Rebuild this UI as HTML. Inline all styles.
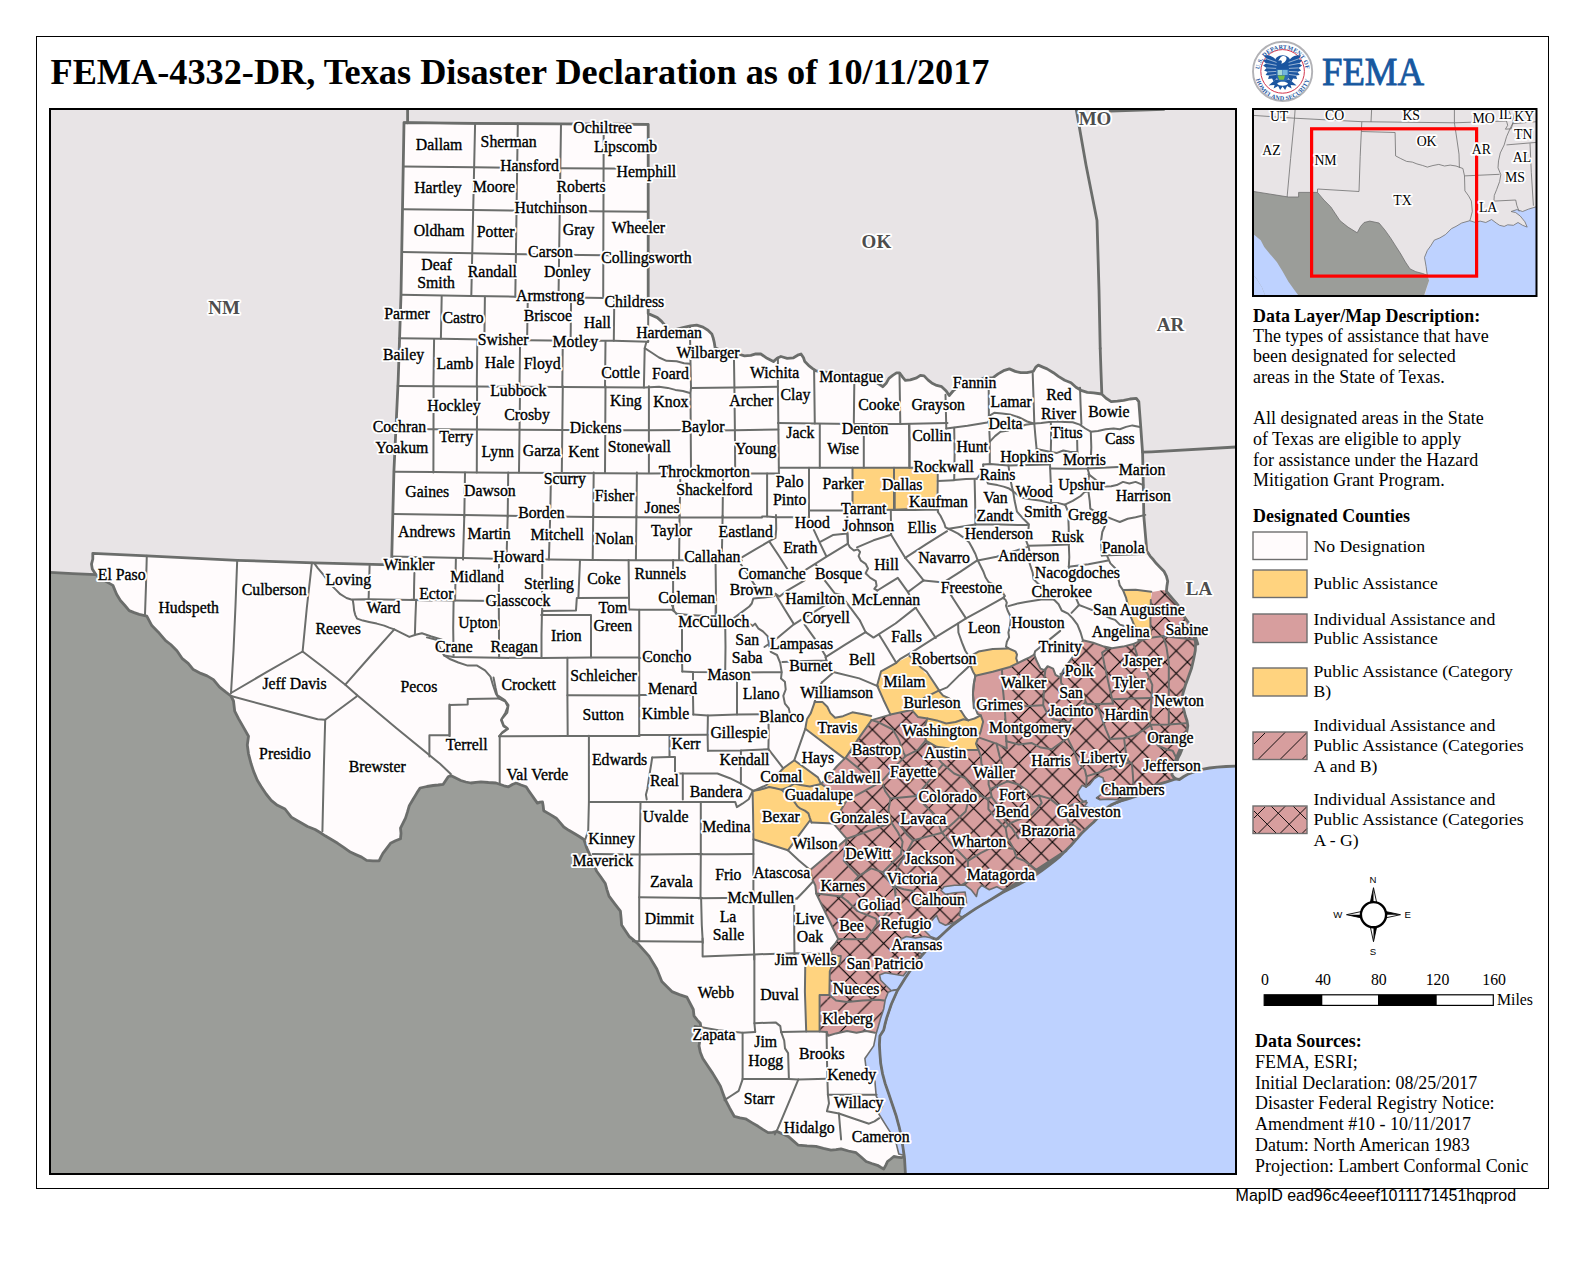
<!DOCTYPE html>
<html><head><meta charset="utf-8"><title>FEMA-4332-DR</title>
<style>
html,body{margin:0;padding:0;background:#fff}
body{width:1592px;height:1262px;position:relative;overflow:hidden;font-family:"Liberation Serif",serif}
svg{position:absolute;left:0;top:0}
text{font-family:"Liberation Serif",serif;fill:#000}
.sans{font-family:"Liberation Sans",sans-serif}
.b{font-weight:bold}
.p{font-size:17.95px}
.lg{font-size:17.7px}
.cl{font-size:15.8px;text-anchor:middle}
.hl{stroke:#fff;stroke-width:4.2px;stroke-linejoin:round;fill:#fff}
.fl{stroke:#000;stroke-width:0.35px}
.sl{font-size:19px;font-weight:bold;fill:#4d4d4d;paint-order:stroke;stroke:#fff;stroke-width:3.6px;stroke-linejoin:round;text-anchor:middle}
.il{font-size:13.8px;paint-order:stroke;stroke:#fff;stroke-width:3.4px;stroke-linejoin:round;text-anchor:middle}
.co{fill:none;stroke:#6b6d6b;stroke-width:2;stroke-linejoin:round;stroke-linecap:round}
.st{fill:none;stroke:#6b6d6b;stroke-width:2.8;stroke-linejoin:round;stroke-linecap:round}
</style></head><body>
<svg width="1592" height="1262" viewBox="0 0 1592 1262">
<defs>
<pattern id="h1" patternUnits="userSpaceOnUse" width="22.5" height="22.5" patternTransform="translate(17.4,9.6)">
<path d="M-2,24.5 L24.5,-2" stroke="#000" stroke-width="1.1" fill="none"/>
</pattern>
<pattern id="h2" patternUnits="userSpaceOnUse" width="22.5" height="22.5" patternTransform="translate(17.4,9.6)">
<path d="M-2,24.5 L24.5,-2 M-2,-2 L24.5,24.5" stroke="#000" stroke-width="1.1" fill="none"/>
</pattern>
<clipPath id="mapclip"><rect x="50" y="109" width="1186" height="1065"/></clipPath>
<clipPath id="insclip"><rect x="1253" y="109" width="283" height="187"/></clipPath>
</defs>

<rect x="36.5" y="36.5" width="1512" height="1152" fill="#fff" stroke="#000" stroke-width="1"/>
<text x="50.5" y="84" class="b" style="font-size:36.2px" textLength="939" lengthAdjust="spacingAndGlyphs">FEMA-4332-DR, Texas Disaster Declaration as of 10/11/2017</text>
<g clip-path="url(#mapclip)">
<rect x="50" y="109" width="1186" height="1065" fill="#e8e4e6"/>
<path d="M35.0 571.9 L50.1 572.4 L72.7 573.6 L95.8 574.6 L104.1 580.4 L112.9 585.4 L116.6 594.2 L120.4 600.5 L124.9 605.5 L129.2 610.6 L134.2 612.6 L139.2 614.3 L146.8 616.1 L151.8 625.6 L158.1 631.9 L165.6 640.7 L170.7 644.5 L176.9 650.8 L182.0 658.3 L188.2 663.3 L193.3 669.6 L200.8 673.4 L207.1 675.9 L213.4 679.6 L219.6 687.2 L225.9 692.2 L231.0 696.0 L233.5 701.0 L234.7 711.1 L238.5 718.6 L243.5 727.4 L248.5 736.2 L247.3 745.0 L248.5 753.8 L251.1 763.8 L253.6 771.4 L257.3 780.2 L261.1 786.4 L266.1 794.0 L271.2 800.3 L277.4 805.3 L285.0 809.0 L291.3 817.1 L307.5 826.5 L315.1 829.5 L320.1 832.5 L325.1 835.8 L331.4 839.5 L337.7 843.3 L344.0 847.6 L350.3 852.1 L355.8 854.6 L361.6 857.1 L366.6 860.4 L372.9 860.9 L379.1 860.9 L380.9 857.1 L382.9 853.4 L386.7 848.3 L390.5 843.3 L395.5 840.8 L400.5 838.8 L401.0 833.3 L400.5 828.2 L403.0 823.2 L405.5 818.2 L407.5 811.9 L409.3 805.6 L413.1 799.3 L416.8 793.1 L420.1 788.0 L426.9 786.5 L433.2 785.5 L438.2 785.0 L443.2 784.3 L445.7 780.5 L448.2 776.7 L450.8 775.5 L455.8 778.0 L460.8 780.5 L465.8 782.0 L470.9 783.0 L475.9 782.3 L480.9 781.8 L488.4 782.5 L496.0 783.0 L499.7 784.3 L504.0 785.8 L508.5 786.8 L512.3 784.5 L516.1 783.0 L521.1 785.0 L526.1 786.8 L528.6 790.6 L531.2 794.3 L534.2 798.6 L537.4 803.1 L539.9 802.1 L542.5 801.9 L543.2 806.1 L543.7 810.7 L550.0 814.4 L556.3 818.2 L560.1 822.7 L563.8 827.0 L568.8 830.3 L573.9 833.3 L578.9 836.3 L583.9 839.5 L585.2 843.3 L586.4 847.1 L589.4 853.9 L592.7 860.9 L594.5 865.9 L596.5 871.0 L601.0 877.2 L605.3 883.5 L607.0 889.8 L609.0 896.1 L614.6 903.6 L620.4 911.2 L621.1 918.2 L621.6 925.0 L625.4 930.8 L629.1 936.3 L633.7 940.1 L637.9 943.8 L643.7 950.1 L649.2 956.4 L653.0 962.7 L656.8 968.9 L659.3 975.2 L661.8 981.5 L666.8 986.5 L671.9 991.6 L679.4 994.6 L686.9 997.1 L693.3 1009.5 L694.0 1015.8 L697.3 1020.1 L700.3 1023.3 L701.3 1029.6 L701.6 1035.9 L699.8 1040.9 L699.0 1045.9 L700.3 1052.2 L702.8 1058.5 L707.8 1066.0 L712.9 1073.6 L716.6 1079.8 L720.4 1086.1 L722.9 1093.2 L725.4 1099.9 L729.7 1108.2 L734.2 1116.3 L740.0 1117.8 L745.5 1118.8 L751.8 1122.6 L758.1 1126.3 L763.1 1129.6 L768.1 1132.6 L772.7 1132.4 L776.9 1131.4 L782.7 1133.9 L788.2 1136.4 L793.3 1140.9 L798.3 1145.2 L807.1 1145.9 L815.9 1146.4 L823.4 1148.4 L831.0 1150.2 L836.0 1149.7 L841.0 1148.9 L848.5 1151.0 L856.1 1152.7 L861.1 1157.0 L866.1 1161.5 L871.7 1163.5 L877.4 1165.3 L880.7 1167.3 L883.7 1169.0 L885.7 1165.3 L887.5 1161.5 L890.8 1159.0 L893.8 1156.5 L897.5 1157.2 L901.3 1157.7 L904.3 1156.5 L905.0 1160.0 L905.0 1190.0 L30.0 1190.0 L30.0 560.0Z" fill="#9b9d99"/>
<path d="M1236.7 766.2 L1226.1 766.5 L1217.1 767.1 L1209.6 768.0 L1202.0 769.4 L1195.2 771.4 L1188.5 773.9 L1183.9 776.5 L1179.4 779.5 L1175.6 778.9 L1170.4 780.7 L1165.8 782.2 L1160.6 783.7 L1155.3 785.2 L1150.0 787.5 L1144.7 789.8 L1139.5 792.3 L1134.2 795.0 L1128.9 797.3 L1123.6 799.6 L1119.1 801.4 L1114.6 803.3 L1110.8 805.1 L1107.8 807.1 L1105.5 810.6 L1099.5 816.1 L1093.5 822.2 L1087.4 827.7 L1081.4 833.5 L1076.1 839.5 L1070.9 845.5 L1065.6 850.8 L1060.3 856.1 L1054.3 861.1 L1048.2 865.9 L1041.5 870.9 L1034.7 875.7 L1026.4 880.2 L1018.1 884.7 L1009.0 889.3 L1000.0 893.8 L1066.1 850.6 L1058.6 856.6 L1051.1 862.6 L1043.5 867.6 L1036.0 872.4 L1028.5 877.4 L1020.9 882.2 L1013.4 886.4 L1005.8 890.5 L998.3 895.0 L990.8 899.6 L983.2 904.1 L975.7 908.6 L969.7 912.7 L963.6 916.9 L957.6 921.4 L951.6 925.9 L946.3 930.8 L941.0 935.7 L935.7 940.6 L930.5 945.5 L925.9 950.8 L921.4 956.1 L916.9 961.7 L912.4 967.4 L908.6 973.0 L904.8 978.7 L901.1 984.7 L897.3 990.8 L894.3 997.5 L891.3 1004.3 L889.0 1011.1 L886.7 1017.9 L884.9 1024.7 L883.7 1030.0 L879.9 1035.9 L879.4 1044.7 L879.9 1053.5 L880.7 1063.5 L882.5 1073.6 L885.2 1083.6 L888.7 1093.7 L892.5 1105.0 L896.3 1116.3 L899.0 1126.3 L901.3 1136.4 L902.8 1146.4 L904.3 1156.5 L905.0 1160.0 L905.0 1190.0 L1250.0 1190.0 L1250.0 780.0Z" fill="#bed2ff"/>
<path d="M404.0 122.6 L475.1 123.4 L561.0 123.9 L648.2 124.4 L648.2 313.6 L652.8 315.6 L657.3 317.6 L661.6 321.4 L664.8 325.1 L667.8 330.2 L675.4 329.6 L682.9 327.6 L690.5 325.9 L696.7 325.1 L703.0 327.1 L708.0 330.2 L711.8 333.9 L713.1 337.7 L714.3 342.7 L715.1 347.7 L720.6 350.3 L725.6 351.5 L731.9 353.3 L738.2 354.0 L744.5 355.8 L750.8 355.3 L755.8 353.8 L760.8 354.0 L767.1 358.3 L773.4 361.6 L777.1 358.3 L780.9 356.5 L787.2 358.3 L793.5 357.8 L798.5 354.8 L801.0 354.0 L803.5 357.8 L804.8 361.6 L808.5 365.3 L812.3 368.3 L816.1 370.9 L821.1 371.6 L831.2 372.9 L851.3 375.4 L871.4 379.1 L878.9 384.2 L882.7 386.7 L886.4 382.9 L888.9 378.4 L892.7 375.4 L896.5 372.9 L899.5 372.9 L902.8 377.4 L905.3 380.4 L910.3 379.9 L916.6 377.9 L920.4 375.4 L924.1 375.9 L927.9 379.9 L931.7 382.9 L936.7 385.4 L941.7 386.7 L946.2 391.0 L949.2 395.5 L953.0 391.0 L956.8 387.9 L961.8 386.7 L966.8 385.4 L975.6 381.7 L984.4 377.9 L993.1 377.7 L998.1 373.9 L1003.6 370.7 L1009.4 368.9 L1015.2 371.4 L1020.7 372.7 L1027.0 372.7 L1033.3 371.4 L1035.8 367.1 L1038.3 365.1 L1042.8 367.1 L1047.1 368.9 L1053.4 372.7 L1058.4 376.4 L1064.7 380.2 L1071.0 382.7 L1076.0 387.2 L1081.0 390.3 L1087.3 392.3 L1093.6 392.8 L1101.6 394.0 L1106.1 398.3 L1111.2 401.6 L1117.4 401.1 L1123.7 400.3 L1130.0 399.0 L1136.3 398.3 L1138.8 401.6 L1140.8 427.9 L1142.6 453.1 L1143.3 485.7 L1143.8 515.9 L1145.3 533.5 L1146.8 551.1 L1150.1 556.1 L1153.4 559.8 L1156.4 563.6 L1160.2 567.4 L1163.9 571.2 L1166.4 576.2 L1167.7 581.2 L1166.9 586.2 L1166.4 591.3 L1169.4 595.0 L1172.7 598.8 L1176.0 602.6 L1179.0 606.3 L1181.5 611.4 L1184.0 616.4 L1188.5 622.7 L1192.8 628.9 L1195.3 636.5 L1197.8 644.0 L1194.1 635.4 L1195.6 642.9 L1195.3 650.5 L1193.6 659.2 L1191.6 668.0 L1188.5 676.8 L1185.3 685.6 L1183.0 693.2 L1181.5 700.7 L1183.5 708.2 L1185.3 715.8 L1187.0 720.8 L1187.8 725.8 L1186.5 733.4 L1185.3 740.9 L1182.8 747.2 L1180.3 753.5 L1177.7 758.5 L1176.5 763.5 L1180.2 749.0 L1178.2 753.6 L1176.4 758.1 L1174.9 762.6 L1173.4 767.1 L1172.5 770.9 L1171.9 774.7 L1173.4 776.9 L1175.6 778.9 L1170.4 780.7 L1165.8 782.2 L1160.6 783.7 L1155.3 785.2 L1150.0 787.5 L1144.7 789.8 L1139.5 792.3 L1134.2 795.0 L1128.9 797.3 L1123.6 799.6 L1119.1 801.4 L1114.6 803.3 L1110.8 805.1 L1107.8 807.1 L1105.5 810.6 L1099.5 816.1 L1093.5 822.2 L1087.4 827.7 L1081.4 833.5 L1076.1 839.5 L1070.9 845.5 L1065.6 850.8 L1060.3 856.1 L1054.3 861.1 L1048.2 865.9 L1041.5 870.9 L1034.7 875.7 L1026.4 880.2 L1018.1 884.7 L1009.0 889.3 L1000.0 893.8 L1066.1 850.6 L1058.6 856.6 L1051.1 862.6 L1043.5 867.6 L1036.0 872.4 L1028.5 877.4 L1020.9 882.2 L1013.4 886.4 L1005.8 890.5 L998.3 895.0 L990.8 899.6 L983.2 904.1 L975.7 908.6 L969.7 912.7 L963.6 916.9 L957.6 921.4 L951.6 925.9 L946.3 930.8 L941.0 935.7 L935.7 940.6 L930.5 945.5 L925.9 950.8 L921.4 956.1 L916.9 961.7 L912.4 967.4 L908.6 973.0 L904.8 978.7 L901.1 984.7 L897.3 990.8 L894.3 997.5 L891.3 1004.3 L889.0 1011.1 L886.7 1017.9 L884.9 1024.7 L883.7 1030.0 L879.9 1035.9 L879.4 1044.7 L879.9 1053.5 L880.7 1063.5 L882.5 1073.6 L885.2 1083.6 L888.7 1093.7 L892.5 1105.0 L896.3 1116.3 L899.0 1126.3 L901.3 1136.4 L902.8 1146.4 L904.3 1156.5 L901.3 1157.7 L897.5 1157.2 L893.8 1156.5 L890.8 1159.0 L887.5 1161.5 L885.7 1165.3 L883.7 1169.0 L880.7 1167.3 L877.4 1165.3 L871.7 1163.5 L866.1 1161.5 L861.1 1157.0 L856.1 1152.7 L848.5 1151.0 L841.0 1148.9 L836.0 1149.7 L831.0 1150.2 L823.4 1148.4 L815.9 1146.4 L807.1 1145.9 L798.3 1145.2 L793.3 1140.9 L788.2 1136.4 L782.7 1133.9 L776.9 1131.4 L772.7 1132.4 L768.1 1132.6 L763.1 1129.6 L758.1 1126.3 L751.8 1122.6 L745.5 1118.8 L740.0 1117.8 L734.2 1116.3 L729.7 1108.2 L725.4 1099.9 L722.9 1093.2 L720.4 1086.1 L716.6 1079.8 L712.9 1073.6 L707.8 1066.0 L702.8 1058.5 L700.3 1052.2 L699.0 1045.9 L699.8 1040.9 L701.6 1035.9 L701.3 1029.6 L700.3 1023.3 L697.3 1020.1 L694.0 1015.8 L693.3 1009.5 L686.9 997.1 L679.4 994.6 L671.9 991.6 L666.8 986.5 L661.8 981.5 L659.3 975.2 L656.8 968.9 L653.0 962.7 L649.2 956.4 L643.7 950.1 L637.9 943.8 L633.7 940.1 L629.1 936.3 L625.4 930.8 L621.6 925.0 L621.1 918.2 L620.4 911.2 L614.6 903.6 L609.0 896.1 L607.0 889.8 L605.3 883.5 L601.0 877.2 L596.5 871.0 L594.5 865.9 L592.7 860.9 L589.4 853.9 L586.4 847.1 L585.2 843.3 L583.9 839.5 L578.9 836.3 L573.9 833.3 L568.8 830.3 L563.8 827.0 L560.1 822.7 L556.3 818.2 L550.0 814.4 L543.7 810.7 L543.2 806.1 L542.5 801.9 L539.9 802.1 L537.4 803.1 L534.2 798.6 L531.2 794.3 L528.6 790.6 L526.1 786.8 L521.1 785.0 L516.1 783.0 L512.3 784.5 L508.5 786.8 L504.0 785.8 L499.7 784.3 L496.0 783.0 L488.4 782.5 L480.9 781.8 L475.9 782.3 L470.9 783.0 L465.8 782.0 L460.8 780.5 L455.8 778.0 L450.8 775.5 L448.2 776.7 L445.7 780.5 L443.2 784.3 L438.2 785.0 L433.2 785.5 L426.9 786.5 L420.1 788.0 L416.8 793.1 L413.1 799.3 L409.3 805.6 L407.5 811.9 L405.5 818.2 L403.0 823.2 L400.5 828.2 L401.0 833.3 L400.5 838.8 L395.5 840.8 L390.5 843.3 L386.7 848.3 L382.9 853.4 L380.9 857.1 L379.1 860.9 L372.9 860.9 L366.6 860.4 L361.6 857.1 L355.8 854.6 L350.3 852.1 L344.0 847.6 L337.7 843.3 L331.4 839.5 L325.1 835.8 L320.1 832.5 L315.1 829.5 L307.5 826.5 L291.3 817.1 L285.0 809.0 L277.4 805.3 L271.2 800.3 L266.1 794.0 L261.1 786.4 L257.3 780.2 L253.6 771.4 L251.1 763.8 L248.5 753.8 L247.3 745.0 L248.5 736.2 L243.5 727.4 L238.5 718.6 L234.7 711.1 L233.5 701.0 L231.0 696.0 L225.9 692.2 L219.6 687.2 L213.4 679.6 L207.1 675.9 L200.8 673.4 L193.3 669.6 L188.2 663.3 L182.0 658.3 L176.9 650.8 L170.7 644.5 L165.6 640.7 L158.1 631.9 L151.8 625.6 L146.8 616.1 L139.2 614.3 L134.2 612.6 L129.2 610.6 L124.9 605.5 L120.4 600.5 L116.6 594.2 L112.9 585.4 L104.1 580.4 L95.8 574.6 L92.3 569.1 L91.5 564.1 L92.8 559.0 L92.8 553.3 L146.8 555.8 L237.2 560.3 L313.9 562.8 L391.8 564.8 L391.8 555.8 L393.9 471.7 L398.2 380.0 L401.0 294.7 L404.0 122.6Z" fill="#fffbfc"/>
<path d="M852.5 467.8 L894.0 467.8 L894.0 509.8 L852.5 510.6Z" fill="#ffd37f"/>
<path d="M894.0 467.8 L936.7 467.8 L936.7 509.3 L894.0 509.8Z" fill="#ffd37f"/>
<path d="M877.1 685.5 L881.0 671.4 L896.3 662.8 L909.5 656.0 L914.8 662.0 L921.1 666.7 L924.2 672.2 L930.5 677.7 L933.6 684.0 L938.7 690.6 L924.2 697.8 L911.7 709.9 L890.5 714.6 L883.4 699.7Z" fill="#ffd37f"/>
<path d="M938.7 690.6 L943.1 695.7 L949.3 698.4 L957.2 706.0 L961.9 712.2 L965.1 717.3 L968.2 720.4 L963.5 719.3 L955.6 722.0 L946.2 723.5 L936.8 720.4 L927.4 718.5 L917.9 716.9 L911.7 709.9 L924.2 697.8Z" fill="#ffd37f"/>
<path d="M927.4 718.5 L936.8 720.4 L946.2 723.5 L955.6 722.0 L963.5 719.3 L968.2 720.4 L974.5 718.5 L980.8 715.4 L983.1 721.7 L980.8 731.1 L978.4 737.4 L976.0 743.6 L978.4 749.9 L963.5 749.9 L949.3 748.4 L936.8 746.8 L925.8 740.5 L924.2 727.9Z" fill="#ffd37f"/>
<path d="M969.1 656.8 L978.5 651.6 L992.7 649.1 L1008.4 648.5 L1009.9 649.0 L1015.4 651.3 L1017.0 654.5 L1016.2 658.4 L1017.8 663.1 L1009.9 667.0 L992.7 671.7 L975.4 675.7 L973.0 671.7 L970.4 665.5Z" fill="#ffd37f"/>
<path d="M814.7 702.1 L822.6 702.1 L827.3 706.8 L830.4 713.1 L835.1 717.8 L843.0 716.2 L852.4 712.3 L861.8 713.9 L871.3 715.9 L871.6 720.1 L858.1 739.4 L844.6 758.6 L824.9 743.7 L805.3 728.8 L806.9 719.3 L810.8 713.1Z" fill="#ffd37f"/>
<path d="M783.4 768.3 L794.4 760.2 L806.2 768.8 L817.9 777.4 L821.1 784.0 L809.9 786.4 L800.5 785.1 L794.2 783.6 L787.9 787.5 L781.7 789.8 L775.4 788.3 L769.1 787.0 L766.1 785.3 L774.7 777.4Z" fill="#ffd37f"/>
<path d="M821.1 784.0 L833.5 792.2 L846.4 800.7 L839.8 812.1 L833.5 823.6 L822.5 823.1 L811.5 822.5 L809.9 818.1 L808.4 813.4 L804.9 810.6 L800.5 808.7 L797.4 806.3 L794.2 801.6 L787.9 796.1 L781.7 789.8 L787.9 787.5 L794.2 783.6 L800.5 785.1 L809.9 786.4Z" fill="#ffd37f"/>
<path d="M753.5 790.8 L759.7 789.8 L769.1 787.0 L775.4 788.3 L781.7 789.8 L787.9 796.1 L794.2 801.6 L797.4 806.3 L800.5 808.7 L804.9 810.6 L808.4 813.4 L809.9 818.1 L809.9 820.5 L798.9 835.4 L787.9 850.3 L770.7 844.8 L753.4 839.3 L753.1 815.0Z" fill="#ffd37f"/>
<path d="M805.4 953.8 L831.3 954.1 L836.0 955.7 L840.8 956.0 L840.0 963.6 L831.3 967.5 L829.8 971.4 L829.4 995.0 L819.6 995.0 L819.6 1031.4 L806.2 1031.4 L804.9 991.8Z" fill="#ffd37f"/>
<path d="M1123.0 590.1 L1135.6 589.8 L1151.3 591.7 L1150.8 600.0 L1150.4 618.8 L1150.8 637.7 L1144.5 639.3 L1138.2 640.0 L1135.1 631.4 L1134.0 624.6 L1130.8 616.8 L1128.5 607.4 L1126.1 597.9Z" fill="#ffd37f"/>
<path d="M1152.0 592.0 L1164.0 590.0 L1166.4 591.3 L1169.4 595.0 L1172.7 598.8 L1176.0 602.6 L1179.0 606.3 L1181.5 611.4 L1184.0 616.4 L1188.5 622.7 L1192.8 628.9 L1195.3 636.5 L1197.8 644.0 L1194.1 635.4 L1195.6 642.9 L1195.3 650.5 L1193.6 659.2 L1191.6 668.0 L1188.5 676.8 L1185.3 685.6 L1183.0 693.2 L1181.5 700.7 L1183.5 708.2 L1185.3 715.8 L1187.0 720.8 L1187.8 725.8 L1186.5 733.4 L1185.3 740.9 L1182.8 747.2 L1180.3 753.5 L1177.7 758.5 L1176.5 763.5 L1180.2 749.0 L1178.2 753.6 L1176.4 758.1 L1174.9 762.6 L1173.4 767.1 L1172.5 770.9 L1171.9 774.7 L1173.4 776.9 L1175.6 778.9 L1170.4 780.7 L1165.8 782.2 L1160.6 783.7 L1155.3 785.2 L1150.0 787.5 L1144.7 789.8 L1139.5 792.3 L1134.2 795.0 L1128.9 797.3 L1123.6 799.6 L1119.1 801.4 L1114.6 803.3 L1110.8 805.1 L1107.8 807.1 L1105.5 810.6 L1099.5 816.1 L1093.5 822.2 L1087.4 827.7 L1081.4 833.5 L1076.1 839.5 L1070.9 845.5 L1065.6 850.8 L1060.3 856.1 L1054.3 861.1 L1048.2 865.9 L1041.5 870.9 L1034.7 875.7 L1026.4 880.2 L1018.1 884.7 L1009.0 889.3 L1000.0 893.8 L1066.1 850.6 L1058.6 856.6 L1051.1 862.6 L1043.5 867.6 L1036.0 872.4 L1028.5 877.4 L1020.9 882.2 L1013.4 886.4 L1005.8 890.5 L998.3 895.0 L990.8 899.6 L983.2 904.1 L975.7 908.6 L969.7 912.7 L963.6 916.9 L957.6 921.4 L951.6 925.9 L946.3 930.8 L941.0 935.7 L935.7 940.6 L930.5 945.5 L925.9 950.8 L921.4 956.1 L916.9 961.7 L912.4 967.4 L908.6 973.0 L904.8 978.7 L901.1 984.7 L897.3 990.8 L894.3 997.5 L891.3 1004.3 L889.0 1011.1 L886.7 1017.9 L884.9 1024.7 L883.7 1030.0 L875.0 1032.7 L865.9 1031.1 L856.5 1032.7 L847.0 1031.1 L836.0 1033.4 L828.2 1035.8 L826.6 1031.9 L819.6 1031.4 L819.6 995.0 L829.4 995.0 L829.8 971.4 L831.3 967.5 L840.0 963.6 L840.8 956.0 L836.0 955.7 L831.3 954.1 L831.2 948.5 L831.1 948.4 L835.1 943.7 L838.2 939.0 L827.2 916.2 L816.2 893.5 L815.4 885.6 L812.3 879.3 L810.2 869.9 L828.8 854.2 L846.8 838.8 L833.5 823.6 L839.8 812.1 L846.4 800.7 L833.5 792.2 L821.1 784.0 L828.9 775.9 L836.7 766.5 L844.6 758.6 L858.3 738.9 L871.6 720.1 L890.5 714.6 L911.7 709.9 L917.9 716.9 L927.4 718.5 L924.2 727.9 L925.8 740.5 L936.8 746.8 L949.3 748.4 L963.5 749.9 L978.4 749.9 L976.0 743.6 L978.4 737.4 L980.8 731.1 L983.1 721.7 L980.8 715.4 L977.6 713.8 L974.5 706.0 L972.9 695.0 L973.7 684.0 L975.4 675.6 L992.7 671.7 L1009.9 667.0 L1017.8 663.1 L1024.1 660.0 L1029.6 657.3 L1034.3 654.5 L1036.6 660.8 L1040.5 668.6 L1044.5 670.2 L1047.6 666.2 L1053.1 668.6 L1055.5 674.9 L1060.2 677.7 L1063.3 670.2 L1071.2 659.2 L1077.4 650.5 L1082.9 640.7 L1093.2 642.7 L1104.1 646.6 L1112.0 648.2 L1123.0 646.6 L1132.4 644.3 L1138.2 641.1 L1138.2 640.0 L1144.5 639.3 L1150.8 637.7 L1150.4 618.8 L1150.8 600.0Z" fill="#d79e9e"/>
<path d="M1152.0 592.0 L1164.0 590.0 L1166.4 591.3 L1169.4 595.0 L1172.7 598.8 L1176.0 602.6 L1179.0 606.3 L1181.5 611.4 L1184.0 616.4 L1188.5 622.7 L1192.8 628.9 L1195.3 636.5 L1197.8 644.0 L1194.1 635.4 L1195.6 642.9 L1195.3 650.5 L1193.6 659.2 L1191.6 668.0 L1188.5 676.8 L1185.3 685.6 L1183.0 693.2 L1181.5 700.7 L1183.5 708.2 L1185.3 715.8 L1187.0 720.8 L1187.8 725.8 L1186.5 733.4 L1185.3 740.9 L1182.8 747.2 L1180.3 753.5 L1177.7 758.5 L1176.5 763.5 L1180.2 749.0 L1178.2 753.6 L1176.4 758.1 L1174.9 762.6 L1173.4 767.1 L1172.5 770.9 L1171.9 774.7 L1173.4 776.9 L1175.6 778.9 L1170.4 780.7 L1165.8 782.2 L1160.6 783.7 L1155.3 785.2 L1150.0 787.5 L1144.7 789.8 L1139.5 792.3 L1134.2 795.0 L1128.9 797.3 L1123.6 799.6 L1119.1 801.4 L1114.6 803.3 L1110.8 805.1 L1107.8 807.1 L1105.5 810.6 L1099.5 816.1 L1093.5 822.2 L1087.4 827.7 L1081.4 833.5 L1076.1 839.5 L1070.9 845.5 L1065.6 850.8 L1060.3 856.1 L1054.3 861.1 L1048.2 865.9 L1041.5 870.9 L1034.7 875.7 L1026.4 880.2 L1018.1 884.7 L1009.0 889.3 L1000.0 893.8 L1066.1 850.6 L1058.6 856.6 L1051.1 862.6 L1043.5 867.6 L1036.0 872.4 L1028.5 877.4 L1020.9 882.2 L1013.4 886.4 L1005.8 890.5 L998.3 895.0 L990.8 899.6 L983.2 904.1 L975.7 908.6 L969.7 912.7 L963.6 916.9 L957.6 921.4 L951.6 925.9 L946.3 930.8 L941.0 935.7 L935.7 940.6 L930.5 945.5 L925.9 950.8 L921.4 956.1 L916.9 961.7 L912.4 967.4 L908.6 973.0 L904.8 978.7 L901.1 984.7 L897.3 990.8 L894.3 997.5 L891.3 1004.3 L889.0 1011.1 L886.7 1017.9 L884.9 1024.7 L883.7 1030.0 L875.0 1032.7 L865.9 1031.1 L856.5 1032.7 L847.0 1031.1 L836.0 1033.4 L828.2 1035.8 L826.6 1031.9 L819.6 1031.4 L819.6 995.0 L829.4 995.0 L829.8 971.4 L831.3 967.5 L840.0 963.6 L840.8 956.0 L836.0 955.7 L831.3 954.1 L831.2 948.5 L831.1 948.4 L835.1 943.7 L838.2 939.0 L827.2 916.2 L816.2 893.5 L815.4 885.6 L812.3 879.3 L810.2 869.9 L828.8 854.2 L846.8 838.8 L833.5 823.6 L839.8 812.1 L846.4 800.7 L833.5 792.2 L821.1 784.0 L828.9 775.9 L836.7 766.5 L844.6 758.6 L858.3 738.9 L871.6 720.1 L890.5 714.6 L911.7 709.9 L917.9 716.9 L927.4 718.5 L924.2 727.9 L925.8 740.5 L936.8 746.8 L949.3 748.4 L963.5 749.9 L978.4 749.9 L976.0 743.6 L978.4 737.4 L980.8 731.1 L983.1 721.7 L980.8 715.4 L977.6 713.8 L974.5 706.0 L972.9 695.0 L973.7 684.0 L975.4 675.6 L992.7 671.7 L1009.9 667.0 L1017.8 663.1 L1024.1 660.0 L1029.6 657.3 L1034.3 654.5 L1036.6 660.8 L1040.5 668.6 L1044.5 670.2 L1047.6 666.2 L1053.1 668.6 L1055.5 674.9 L1060.2 677.7 L1063.3 670.2 L1071.2 659.2 L1077.4 650.5 L1082.9 640.7 L1093.2 642.7 L1104.1 646.6 L1112.0 648.2 L1123.0 646.6 L1132.4 644.3 L1138.2 641.1 L1138.2 640.0 L1144.5 639.3 L1150.8 637.7 L1150.4 618.8 L1150.8 600.0Z" fill="url(#h2)"/>
<path d="M975.4 675.6 L992.7 671.7 L1002.0 669.5 L1002.7 687.1 L1004.6 706.0 L1005.9 727.9 L1006.7 748.4 L996.5 743.6 L978.4 737.4 L980.8 731.1 L983.1 721.7 L980.8 715.4 L977.6 713.8 L974.5 706.0 L972.9 695.0 L973.7 684.0Z" fill="#d79e9e"/>
<path d="M821.1 784.0 L828.9 775.9 L836.7 766.5 L844.6 758.6 L855.1 765.6 L866.1 775.1 L881.8 781.3 L864.1 791.1 L846.4 800.7 L833.5 792.2Z" fill="#d79e9e"/>
<path d="M846.8 838.8 L843.7 860.5 L850.8 868.4 L858.6 876.2 L850.0 886.4 L841.3 896.6 L828.8 895.1 L816.2 893.5 L815.4 885.6 L812.3 879.3 L810.2 869.9 L828.8 854.2Z" fill="#d79e9e"/>
<path d="M846.8 838.8 L843.7 860.5 L850.8 868.4 L858.6 876.2 L850.0 886.4 L841.3 896.6 L828.8 895.1 L816.2 893.5 L815.4 885.6 L812.3 879.3 L810.2 869.9 L828.8 854.2Z" fill="url(#h1)"/>
<path d="M819.6 995.0 L829.4 995.0 L836.0 1000.5 L847.0 1002.0 L862.7 1000.5 L878.4 999.7 L883.9 1000.5 L882.8 1010.7 L880.8 1021.7 L879.2 1032.7 L875.0 1032.7 L865.9 1031.1 L856.5 1032.7 L847.0 1031.1 L836.0 1033.4 L828.2 1035.8 L826.6 1031.9 L819.6 1031.4Z" fill="#d79e9e"/>
<path d="M819.6 995.0 L829.4 995.0 L836.0 1000.5 L847.0 1002.0 L862.7 1000.5 L878.4 999.7 L883.9 1000.5 L882.8 1010.7 L880.8 1021.7 L879.2 1032.7 L875.0 1032.7 L865.9 1031.1 L856.5 1032.7 L847.0 1031.1 L836.0 1033.4 L828.2 1035.8 L826.6 1031.9 L819.6 1031.4Z" fill="url(#h1)"/>
<path d="M1082.2 785.2 L1085.9 787.0 L1089.3 784.9 L1093.8 779.2 L1098.7 775.9 L1103.0 777.7 L1104.0 783.0 L1101.3 788.5 L1104.0 792.0 L1100.3 795.0 L1096.5 798.0 L1099.5 799.6 L1108.5 799.1 L1117.6 799.6 L1122.1 798.0 L1125.9 798.8 L1119.1 802.1 L1111.6 805.1 L1107.8 807.1 L1105.5 810.6 L1096.5 808.6 L1088.9 807.8 L1084.4 806.3 L1087.1 802.6 L1082.9 801.1 L1079.9 798.0 L1077.6 792.0Z" fill="#bed2ff" stroke="#6e6e6e" stroke-width="1.6" stroke-linejoin="round"/>
<path d="M1107.8 807.1 L1114.6 804.1 L1123.6 800.3 L1134.2 795.8 L1144.7 791.0 L1150.8 788.2 L1144.7 792.8 L1135.7 797.0 L1126.6 800.0 L1119.1 802.1 L1111.6 805.1Z" fill="#bed2ff" stroke="#6e6e6e" stroke-width="1.6" stroke-linejoin="round"/>
<path d="M1043.5 868.6 L1036.0 873.5 L1020.9 883.0 L1002.8 889.8 L996.8 886.7 L989.3 889.8 L981.7 885.2 L977.9 889.8 L976.4 896.5 L971.2 889.8 L965.1 885.2 L954.6 885.2 L944.0 886.7 L941.0 890.5 L945.5 894.3 L954.6 892.8 L965.1 892.0 L966.6 903.3 L960.6 909.4 L959.1 915.4 L962.1 916.9 L969.7 912.7 L983.2 904.1 L998.3 895.0 L1013.4 886.4 L1028.5 877.4Z" fill="#bed2ff" stroke="#6e6e6e" stroke-width="1.6" stroke-linejoin="round"/>
<path d="M962.1 917.2 L957.6 921.4 L951.6 925.9 L946.3 930.8 L941.0 935.7 L936.5 938.7 L930.5 936.5 L924.4 930.5 L928.9 924.4 L933.5 918.4 L936.5 915.4 L939.5 922.2 L945.5 925.2 L954.6 922.2Z" fill="#bed2ff" stroke="#6e6e6e" stroke-width="1.6" stroke-linejoin="round"/>
<path d="M936.5 940.7 L930.5 945.5 L925.9 950.8 L922.2 954.6 L918.4 951.6 L912.4 948.5 L904.8 945.5 L900.3 939.5 L906.3 936.5 L915.4 938.0 L924.4 936.5 L930.5 937.7Z" fill="#bed2ff" stroke="#6e6e6e" stroke-width="1.6" stroke-linejoin="round"/>
<path d="M912.4 967.4 L908.6 973.0 L904.8 978.7 L901.1 984.7 L898.0 989.3 L891.3 990.8 L885.2 984.7 L880.7 980.2 L879.5 974.9 L885.2 972.7 L894.3 974.2 L903.3 975.7 L907.8 969.7Z" fill="#bed2ff" stroke="#6e6e6e" stroke-width="1.6" stroke-linejoin="round"/>
<path d="M898.0 989.6 L894.6 997.5 L891.6 1004.3 L889.3 1011.1 L887.0 1017.9 L885.2 1024.7 L884.0 1030.0 L879.9 1035.9 L879.4 1044.7 L879.9 1053.5 L880.7 1063.5 L882.5 1073.6 L885.2 1083.6 L888.7 1093.7 L892.5 1105.0 L896.3 1116.3 L899.0 1126.3 L901.3 1136.4 L902.8 1146.4 L903.8 1155.2 L898.8 1154.0 L896.3 1143.9 L891.3 1133.9 L885.0 1123.8 L878.7 1113.8 L882.5 1106.2 L876.2 1096.2 L874.9 1081.1 L866.1 1068.5 L864.9 1058.5 L873.7 1045.9 L876.2 1033.4 L878.4 1026.2 L880.7 1017.9 L883.7 1008.9 L885.2 999.8 L888.2 992.3 L891.3 990.8Z" fill="#bed2ff" stroke="#6e6e6e" stroke-width="1.6" stroke-linejoin="round"/>
<path class="co" d="M404.0 122.6 L475.1 123.4 L561.0 123.9 L648.2 124.4"/>
<path class="co" d="M403.2 166.6 L474.3 167.3 L560.3 168.3 L648.2 168.8"/>
<path class="co" d="M402.7 209.3 L473.6 210.1 L559.7 211.1 L648.2 211.8"/>
<path class="co" d="M402.0 252.0 L472.6 253.3 L559.0 254.8 L648.2 255.8"/>
<path class="co" d="M401.0 294.7 L471.3 296.0 L515.3 296.7 L558.5 297.2 L603.2 298.0 L648.2 298.5"/>
<path class="co" d="M475.1 123.4 L471.3 296.0"/>
<path class="co" d="M517.8 123.6 L515.3 296.7"/>
<path class="co" d="M561.0 123.9 L558.5 297.2"/>
<path class="co" d="M603.7 124.1 L603.2 298.0"/>
<path class="co" d="M399.4 338.2 L441.7 338.7 L484.9 339.4 L527.1 340.2 L570.6 340.7 L613.8 340.7 L648.2 341.7"/>
<path class="co" d="M441.7 296.2 L440.9 338.7"/>
<path class="co" d="M484.9 296.7 L484.4 339.4"/>
<path class="co" d="M527.8 297.2 L527.1 340.2"/>
<path class="co" d="M571.1 297.5 L570.6 340.7"/>
<path class="co" d="M614.3 298.0 L613.8 340.7"/>
<path class="co" d="M397.7 385.9 L433.4 386.2 L476.8 386.4 L519.5 386.7 L562.3 386.9 L605.0 387.2 L643.9 387.4"/>
<path class="co" d="M434.1 338.9 L433.4 386.2"/>
<path class="co" d="M477.3 339.4 L476.8 386.4"/>
<path class="co" d="M520.1 340.2 L519.5 386.7"/>
<path class="co" d="M562.8 340.5 L562.3 386.9"/>
<path class="co" d="M605.5 341.2 L605.0 387.2"/>
<path class="co" d="M395.9 429.0 L433.6 429.2 L476.8 429.5 L519.5 429.7 L562.3 430.0 L605.2 430.3 L648.9 430.3 L691.2 430.0"/>
<path class="co" d="M393.9 471.7 L433.6 472.0 L476.8 472.5 L519.0 472.7 L561.8 473.0 L605.0 473.2 L648.9 473.5 L691.7 473.2"/>
<path class="co" d="M433.6 386.3 L433.4 472.5"/>
<path class="co" d="M477.1 386.3 L476.8 472.5"/>
<path class="co" d="M520.1 386.3 L519.0 472.5"/>
<path class="co" d="M562.8 386.3 L561.8 472.5"/>
<path class="co" d="M605.5 386.3 L605.0 472.5"/>
<path class="co" d="M648.9 386.3 L648.9 472.5"/>
<path class="co" d="M393.4 513.9 L464.3 514.9 L507.7 515.7 L550.2 516.4 L593.2 516.9 L636.4 517.2 L679.6 517.4 L723.1 517.4 L762.0 517.4"/>
<path class="co" d="M465.0 472.5 L464.3 516.9"/>
<path class="co" d="M508.2 472.5 L507.7 516.9"/>
<path class="co" d="M551.0 472.5 L550.2 516.9"/>
<path class="co" d="M593.7 472.5 L593.2 516.9"/>
<path class="co" d="M636.9 472.5 L636.4 516.9"/>
<path class="co" d="M680.4 472.5 L679.6 516.9"/>
<path class="co" d="M723.1 472.5 L722.6 516.9"/>
<path class="co" d="M391.9 556.6 L463.0 557.9 L506.5 558.9 L548.9 559.6 L592.7 559.9 L635.9 560.2 L679.1 560.2 L741.9 560.4"/>
<path class="co" d="M464.3 515.7 L463.0 559.6"/>
<path class="co" d="M507.7 515.7 L506.5 559.6"/>
<path class="co" d="M550.2 515.7 L548.9 559.6"/>
<path class="co" d="M593.2 515.7 L592.7 559.6"/>
<path class="co" d="M636.4 515.7 L635.9 559.6"/>
<path class="co" d="M679.6 515.7 L679.1 559.6"/>
<path class="co" d="M722.6 515.7 L721.8 559.6"/>
<path class="co" d="M648.2 313.6 L648.2 341.7 L646.4 342.0 L644.7 348.2 L643.9 387.4"/>
<path class="co" d="M644.7 348.2 L651.5 352.5 L659.0 357.5 L666.5 360.8 L676.6 361.3 L684.1 363.3 L689.9 363.8"/>
<path class="co" d="M689.9 326.4 L690.5 362.8 L691.0 387.9 L690.5 393.0 L691.0 473.4"/>
<path class="co" d="M644.7 387.4 L659.0 386.7 L667.8 387.9 L675.4 389.9 L682.9 391.0 L689.9 393.0"/>
<path class="co" d="M691.0 387.9 L734.4 387.4 L777.9 386.7"/>
<path class="co" d="M733.9 354.0 L734.4 387.4 L734.9 430.7 L735.2 473.4"/>
<path class="co" d="M691.0 430.7 L734.9 430.2 L778.4 429.4"/>
<path class="co" d="M777.9 357.8 L777.9 386.7 L778.4 429.4 L778.9 473.4"/>
<path class="co" d="M777.9 423.1 L814.8 423.6 L853.8 424.1 L900.3 423.9 L947.5 423.1"/>
<path class="co" d="M814.1 369.8 L814.8 423.6"/>
<path class="co" d="M854.3 384.2 L853.8 424.1"/>
<path class="co" d="M899.5 373.4 L900.3 423.6"/>
<path class="co" d="M691.0 473.4 L735.2 473.4 L778.9 473.4"/>
<path class="co" d="M778.9 467.8 L819.8 467.8 L863.8 467.8 L909.5 467.8 L936.7 467.8"/>
<path class="co" d="M819.8 424.4 L819.8 467.8"/>
<path class="co" d="M863.8 424.4 L863.8 467.8"/>
<path class="co" d="M909.0 424.4 L909.5 467.8"/>
<path class="co" d="M767.1 473.4 L767.1 516.6"/>
<path class="co" d="M809.0 467.8 L809.0 517.3"/>
<path class="co" d="M852.5 467.8 L852.5 510.6"/>
<path class="co" d="M894.0 467.8 L894.0 509.8"/>
<path class="co" d="M809.0 510.6 L852.5 510.6 L894.0 509.8 L906.5 509.3"/>
<path class="co" d="M762.1 516.6 L767.1 516.6 L775.9 517.3 L809.0 517.3"/>
<path class="co" d="M945.5 394.8 L946.3 428.5"/>
<path class="co" d="M946.3 428.5 L967.5 425.7 L987.2 422.6 L988.7 421.5"/>
<path class="co" d="M988.7 389.3 L988.9 421.5 L989.8 440.3 L989.8 463.9"/>
<path class="co" d="M909.4 424.6 L909.7 444.2 L909.4 466.2"/>
<path class="co" d="M954.2 427.7 L954.6 453.6 L954.2 480.0"/>
<path class="co" d="M988.9 416.0 L994.2 412.8 L1002.1 413.6 L1009.9 414.4 L1019.3 417.5 L1027.2 421.5 L1034.3 423.8"/>
<path class="co" d="M990.3 441.1 L995.0 436.1 L1000.5 431.7 L1008.4 430.4 L1016.2 427.7 L1025.6 424.7 L1034.3 423.5"/>
<path class="co" d="M1032.7 373.6 L1033.5 397.1 L1034.3 423.5 L1035.4 436.4 L1036.6 448.9"/>
<path class="co" d="M1080.0 387.7 L1080.6 405.0 L1081.4 424.1"/>
<path class="co" d="M1034.3 423.5 L1041.3 423.0 L1049.2 421.9 L1057.0 421.5 L1064.9 421.9 L1072.7 422.2 L1079.8 424.6 L1085.3 428.5 L1090.8 431.7 L1097.9 430.9 L1105.7 429.3 L1113.6 428.5 L1119.8 429.3 L1126.1 426.9 L1132.4 425.4 L1139.9 426.9"/>
<path class="co" d="M1050.8 421.9 L1051.1 437.9 L1050.8 452.1"/>
<path class="co" d="M1077.1 437.9 L1077.4 452.1 L1077.8 459.9"/>
<path class="co" d="M1090.8 431.7 L1091.3 447.4 L1090.8 459.9 L1087.7 469.3"/>
<path class="co" d="M1036.6 448.9 L1043.7 450.5 L1050.8 452.1 L1057.0 452.9 L1063.3 450.5 L1069.6 451.8 L1077.4 452.1"/>
<path class="co" d="M983.2 464.6 L990.3 463.9 L1008.4 465.4 L1028.8 464.9 L1050.0 464.6"/>
<path class="co" d="M1050.0 464.6 L1050.8 483.5 L1051.1 503.1"/>
<path class="co" d="M1050.4 468.6 L1069.6 468.7 L1086.9 468.6 L1102.6 467.8 L1118.3 467.0 L1142.6 466.2"/>
<path class="co" d="M1087.7 469.3 L1089.2 474.1 L1088.4 480.3 L1088.4 491.3"/>
<path class="co" d="M954.2 480.0 L966.0 479.1 L976.9 478.8"/>
<path class="co" d="M937.7 466.2 L937.7 481.1 L954.2 480.3"/>
<path class="co" d="M937.7 481.1 L937.4 508.6"/>
<path class="co" d="M983.2 464.6 L983.2 470.1 L976.9 478.8"/>
<path class="co" d="M983.2 470.1 L987.9 483.5 L997.4 485.1 L1003.6 486.6 L1008.4 488.2 L1013.1 491.3"/>
<path class="co" d="M1008.4 465.4 L1009.9 475.6 L1011.5 485.1 L1013.1 491.3"/>
<path class="co" d="M974.6 479.1 L975.1 500.8 L975.4 524.6"/>
<path class="co" d="M975.4 524.6 L1000.5 524.6 L1027.2 525.1"/>
<path class="co" d="M1013.1 491.3 L1014.6 500.8 L1017.0 511.7 L1023.3 518.8 L1028.8 524.3"/>
<path class="co" d="M1013.1 491.3 L1020.9 497.6 L1030.3 499.2 L1041.3 500.8 L1050.8 503.1 L1058.6 503.1 L1064.9 504.7"/>
<path class="co" d="M1064.9 504.7 L1072.7 500.8 L1080.6 496.0 L1084.5 492.1 L1088.4 491.3"/>
<path class="co" d="M1088.4 491.3 L1089.7 500.8 L1090.3 508.6 L1097.9 513.3 L1105.7 516.5"/>
<path class="co" d="M1088.4 474.1 L1096.3 480.3 L1105.7 486.6 L1111.2 486.3 L1116.7 485.1 L1123.0 481.9 L1129.3 483.5 L1135.6 481.9 L1143.4 485.1"/>
<path class="co" d="M1105.7 516.5 L1113.6 519.6 L1119.8 522.0 L1127.7 518.8 L1135.6 517.2 L1145.3 514.9"/>
<path class="co" d="M1065.2 504.7 L1067.4 510.0"/>
<path class="co" d="M937.7 511.7 L940.5 515.7 L942.4 519.6 L944.3 523.5 L945.5 527.4 L948.7 529.0"/>
<path class="co" d="M948.7 528.7 L962.8 526.5 L975.4 524.6"/>
<path class="co" d="M948.7 529.0 L951.8 530.4 L958.1 533.6 L964.4 538.3 L969.1 542.2 L972.2 547.7 L975.4 554.0 L977.7 560.3 L980.1 565.0 L983.2 571.2 L985.6 577.5 L988.7 582.2 L995.8 585.4 L1001.3 590.1 L1003.6 594.0 L1004.9 596.1 L1002.9 597.9 L1005.5 599.8 L1006.8 602.7 L1006.0 605.8 L1007.6 610.5 L1009.9 615.2 L1010.7 619.9 L1009.9 626.2 L1008.4 632.5 L1009.1 637.2 L1006.8 641.9 L1006.0 646.6 L1009.9 649.0 L1015.4 651.3 L1017.0 654.5 L1016.2 658.4 L1017.8 663.1 L1024.1 660.0 L1029.6 657.3 L1034.3 654.5"/>
<path class="co" d="M947.1 531.2 L926.7 543.8 L905.2 557.9"/>
<path class="co" d="M905.2 557.9 L914.9 569.4 L923.6 580.4"/>
<path class="co" d="M923.6 580.4 L933.8 581.6 L943.2 582.6"/>
<path class="co" d="M976.9 560.6 L960.5 571.6 L943.2 582.6"/>
<path class="co" d="M943.2 582.6 L954.2 600.3 L966.0 618.4"/>
<path class="co" d="M1004.0 597.3 L984.8 608.1 L966.0 618.4 L958.1 623.4 L936.9 636.4 L915.7 649.8 L900.0 659.2 L896.2 662.8"/>
<path class="co" d="M923.6 580.4 L915.7 586.2 L907.9 592.1"/>
<path class="co" d="M915.7 607.7 L925.9 623.1 L935.8 638.0"/>
<path class="co" d="M958.1 623.4 L958.4 632.5 L962.0 642.7 L965.2 650.5 L969.1 656.8 L970.4 665.5 L973.0 671.7 L975.4 675.7 L974.1 682.7 L973.0 692.2 L973.2 700.0 L973.8 708.2"/>
<path class="co" d="M969.1 656.8 L978.5 651.6 L992.7 649.1 L1008.4 648.5"/>
<path class="co" d="M1017.8 663.1 L1009.9 667.0 L992.7 671.7 L975.4 675.7"/>
<path class="co" d="M969.9 665.5 L959.7 674.9 L947.1 687.4 L939.3 690.6"/>
<path class="co" d="M909.4 656.0 L915.7 660.8 L920.4 667.0 L926.7 671.7 L931.4 678.8 L936.1 685.9 L939.3 690.6"/>
<path class="co" d="M977.7 560.6 L987.9 558.4 L996.6 556.8 L1009.9 552.4 L1028.0 546.9"/>
<path class="co" d="M1028.5 545.8 L1049.2 545.2 L1068.8 544.5"/>
<path class="co" d="M1068.0 510.0 L1068.7 527.3 L1068.8 544.5 L1069.3 557.1 L1068.8 566.8"/>
<path class="co" d="M1028.8 525.1 L1028.0 533.6 L1026.4 541.4 L1028.8 547.7 L1030.3 555.5 L1029.6 563.4 L1032.7 572.8 L1033.5 579.1 L1038.2 583.8 L1044.5 588.5 L1049.2 594.0 L1053.9 599.5 L1058.6 604.2 L1061.7 610.5 L1068.0 613.6 L1072.7 618.4 L1077.4 624.6 L1080.6 632.5 L1082.9 640.3 L1093.2 642.7 L1104.1 646.6 L1112.0 648.2 L1123.0 646.6 L1132.4 644.3 L1141.8 640.3 L1151.3 636.9"/>
<path class="co" d="M1008.4 606.1 L1017.8 603.4 L1025.6 601.9 L1041.3 599.5 L1053.9 599.5"/>
<path class="co" d="M1060.2 630.9 L1047.6 641.1 L1035.1 651.3 L1034.3 654.5"/>
<path class="co" d="M1034.3 654.5 L1036.6 660.8 L1040.5 668.6 L1044.5 670.2 L1047.6 666.2 L1053.1 668.6 L1055.5 674.9 L1060.2 677.7"/>
<path class="co" d="M1082.9 640.7 L1077.4 650.5 L1071.2 659.2 L1063.3 670.2 L1060.2 677.7"/>
<path class="co" d="M1071.5 612.9 L1075.6 608.6 L1079.0 605.0"/>
<path class="co" d="M1068.8 566.8 L1070.4 572.8 L1071.5 579.1 L1072.7 588.5 L1075.9 597.9 L1079.0 605.0 L1085.3 607.4 L1093.2 610.5 L1102.6 614.4 L1110.4 618.4 L1115.1 619.9 L1119.8 624.6 L1126.1 626.5 L1132.4 629.3 L1138.7 634.1 L1145.0 636.4"/>
<path class="co" d="M1105.7 524.1 L1102.3 532.0 L1101.0 541.4 L1101.8 555.5"/>
<path class="co" d="M1101.8 555.5 L1123.0 554.8 L1145.3 554.0"/>
<path class="co" d="M1068.8 566.8 L1088.4 564.2 L1108.1 560.6"/>
<path class="co" d="M1107.3 556.3 L1110.4 563.4 L1116.7 569.7 L1118.3 579.1 L1119.8 585.4 L1123.0 590.1 L1126.1 597.9 L1128.5 607.4 L1130.8 616.8 L1134.0 624.6 L1138.7 634.1"/>
<path class="co" d="M1123.0 590.1 L1135.6 589.8 L1151.3 591.7"/>
<path class="co" d="M1150.8 600.0 L1150.4 618.8 L1150.8 637.7"/>
<path class="co" d="M1138.2 640.0 L1144.5 639.3 L1150.8 637.7 L1163.3 636.1 L1177.4 637.7 L1193.9 639.6"/>
<path class="co" d="M1163.3 636.1 L1166.5 647.1 L1168.8 662.8 L1168.8 694.2 L1168.8 724.4"/>
<path class="co" d="M1108.4 648.4 L1102.1 652.6 L1104.4 664.4 L1106.8 675.4 L1109.9 689.5 L1113.1 703.6"/>
<path class="co" d="M1133.5 644.3 L1136.6 653.4 L1138.2 659.7 L1142.9 667.5 L1147.6 673.8 L1152.3 684.8 L1151.5 697.4 L1150.8 709.9 L1150.0 724.1 L1151.5 727.2 L1154.7 741.3 L1158.6 746.0 L1166.5 749.2 L1172.7 750.8 L1175.9 757.0 L1177.4 763.3"/>
<path class="co" d="M1113.1 699.2 L1131.9 698.6 L1151.1 698.1"/>
<path class="co" d="M1060.5 673.8 L1061.2 683.2 L1066.0 687.9 L1075.4 692.7 L1084.8 697.4 L1085.6 702.1 L1087.2 704.0 L1100.5 704.0 L1113.1 703.6"/>
<path class="co" d="M1097.4 704.4 L1102.1 719.3 L1106.0 729.6 L1109.9 739.0"/>
<path class="co" d="M1109.9 739.0 L1124.1 738.2 L1135.1 735.1 L1142.9 730.3 L1150.0 725.6"/>
<path class="co" d="M1124.1 738.5 L1125.6 750.8 L1128.8 762.5 L1131.9 763.3 L1132.7 772.7 L1133.5 784.5"/>
<path class="co" d="M1087.9 775.9 L1100.5 772.0 L1114.6 767.2 L1128.8 762.5"/>
<path class="co" d="M1151.5 724.8 L1168.8 724.4 L1185.3 723.3"/>
<path class="co" d="M1045.5 669.1 L1044.3 678.5 L1044.0 687.9 L1043.2 705.2 L1047.1 713.1 L1053.4 719.3 L1062.8 721.2 L1069.1 722.5"/>
<path class="co" d="M1004.7 706.8 L1023.6 706.2 L1043.2 705.2"/>
<path class="co" d="M1005.0 719.3 L1006.3 741.3"/>
<path class="co" d="M1069.1 722.5 L1067.8 730.3 L1067.5 738.2"/>
<path class="co" d="M1085.6 702.1 L1078.5 709.9 L1069.1 722.5"/>
<path class="co" d="M1006.3 741.3 L1018.8 744.5 L1031.4 742.9 L1040.8 747.6 L1051.8 749.2 L1062.8 741.3 L1067.5 738.2"/>
<path class="co" d="M1067.5 738.2 L1073.8 750.8 L1078.5 763.3 L1084.8 769.6 L1086.7 777.4 L1086.1 786.9"/>
<path class="co" d="M877.1 685.5 L881.0 671.4 L896.3 662.8"/>
<path class="co" d="M938.7 690.6 L943.1 695.7 L949.3 698.4 L957.2 706.0 L961.9 712.2 L965.1 717.3 L968.2 720.4 L974.5 718.5 L980.8 715.4 L983.1 721.7 L980.8 731.1 L978.4 737.4 L976.0 743.6 L978.4 749.9 L980.8 756.2 L981.5 764.1 L985.5 770.3 L988.6 776.6 L988.6 784.5 L990.2 789.2 L991.7 797.0 L996.5 803.3 L998.0 811.2 L1002.7 817.4 L1007.4 823.7 L1012.2 828.4 L1018.4 838.2"/>
<path class="co" d="M938.7 690.6 L924.2 697.8 L911.7 709.9 L890.5 714.6 L871.6 720.1"/>
<path class="co" d="M890.5 714.6 L883.4 699.7 L877.1 685.5"/>
<path class="co" d="M968.2 720.4 L963.5 719.3 L955.6 722.0 L946.2 723.5 L936.8 720.4 L927.4 718.5 L917.9 716.9 L911.7 709.9"/>
<path class="co" d="M927.4 718.5 L924.2 727.9 L925.8 740.5"/>
<path class="co" d="M925.8 740.5 L936.8 746.8 L949.3 748.4 L963.5 749.9 L978.4 749.9"/>
<path class="co" d="M975.4 675.6 L973.7 684.0 L972.9 695.0 L974.5 706.0 L977.6 713.8 L980.8 715.4"/>
<path class="co" d="M1002.0 670.6 L1002.7 687.1 L1004.6 706.0 L1005.9 727.9 L1006.7 748.4"/>
<path class="co" d="M978.4 737.4 L996.5 743.6 L1006.7 748.4"/>
<path class="co" d="M996.5 743.6 L999.6 756.2 L1004.3 770.3 L1007.4 781.3"/>
<path class="co" d="M990.2 789.2 L1007.4 781.3"/>
<path class="co" d="M1007.4 781.3 L1018.4 784.5 L1027.9 790.8 L1032.6 797.0 L1038.9 795.5 L1049.8 798.6 L1057.7 804.9 L1065.6 808.0"/>
<path class="co" d="M925.8 740.5 L933.6 751.5 L939.9 760.9 L943.1 764.1"/>
<path class="co" d="M943.1 764.1 L954.1 773.5 L965.1 778.2 L971.3 786.0 L980.8 795.5 L987.0 798.6 L991.7 797.0"/>
<path class="co" d="M943.1 764.1 L929.7 780.1 L916.4 796.1"/>
<path class="co" d="M871.6 720.1 L877.1 721.7 L892.8 729.5 L899.1 740.5 L903.8 753.1 L905.4 756.2 L917.9 749.9 L925.8 740.5"/>
<path class="co" d="M871.6 720.1 L858.3 738.9 L845.7 757.8"/>
<path class="co" d="M905.4 756.2 L892.8 768.8 L881.8 781.3"/>
<path class="co" d="M845.7 757.8 L855.1 765.6 L866.1 775.1 L881.8 781.3"/>
<path class="co" d="M881.8 781.3 L885.0 790.8 L890.5 798.6 L903.8 797.3 L916.4 796.1"/>
<path class="co" d="M742.3 557.2 L755.8 549.2 L769.4 541.1 L775.5 537.9 L776.2 529.1 L776.0 515.0"/>
<path class="co" d="M769.4 541.6 L778.5 555.2 L787.5 569.3 L793.6 577.5"/>
<path class="co" d="M847.9 543.6 L825.8 557.2 L805.6 569.8 L793.6 577.5"/>
<path class="co" d="M804.6 580.4 L787.5 590.4 L779.5 596.5 L775.5 593.9"/>
<path class="co" d="M740.2 563.3 L747.3 573.8 L754.3 584.4 L760.4 590.4 L774.4 595.5"/>
<path class="co" d="M774.4 596.0 L764.4 597.5 L753.3 598.5 L751.8 603.5 L749.3 606.5 L741.2 612.6 L733.2 618.6 L725.2 622.6"/>
<path class="co" d="M715.6 564.3 L715.9 590.4 L715.6 614.6"/>
<path class="co" d="M813.7 529.6 L819.7 542.6 L826.3 556.2"/>
<path class="co" d="M820.7 541.6 L832.8 535.1 L847.4 533.6 L847.9 543.6"/>
<path class="co" d="M775.5 593.9 L784.5 609.0 L793.6 623.6"/>
<path class="co" d="M764.4 647.0 L776.5 638.7 L793.6 624.6 L800.6 620.1 L813.7 612.1 L824.7 605.5 L840.8 594.9"/>
<path class="co" d="M815.7 564.3 L824.7 580.4 L834.8 593.4 L840.8 594.9 L860.0 620.6"/>
<path class="co" d="M804.6 624.6 L814.7 638.7 L820.7 647.8"/>
<path class="co" d="M847.3 510.6 L847.3 530.0 L847.9 543.7"/>
<path class="co" d="M890.8 510.1 L891.1 534.8"/>
<path class="co" d="M890.8 510.1 L914.3 509.9 L937.9 509.6 L938.2 512.0"/>
<path class="co" d="M894.7 488.4 L894.7 509.6"/>
<path class="co" d="M847.9 543.7 L849.9 547.3 L853.9 550.5 L857.8 549.4 L860.1 552.0 L858.6 556.0 L860.9 560.7 L865.6 563.8 L868.0 568.5 L865.6 573.2 L870.3 577.9 L875.8 581.1 L876.6 585.8 L874.3 588.9 L877.4 590.5"/>
<path class="co" d="M857.0 547.3 L873.5 540.3 L891.1 534.8"/>
<path class="co" d="M891.1 534.8 L898.3 546.5 L905.2 557.8"/>
<path class="co" d="M877.4 590.5 L887.6 584.2 L897.8 577.9 L908.0 592.1"/>
<path class="co" d="M908.0 592.1 L915.7 607.6"/>
<path class="co" d="M915.7 607.6 L895.5 623.5 L873.5 637.6 L865.6 632.1"/>
<path class="co" d="M860.0 620.7 L865.6 632.1"/>
<path class="co" d="M879.0 634.5 L887.6 648.6 L896.2 662.7"/>
<path class="co" d="M865.6 632.1 L845.2 644.7 L825.6 657.2"/>
<path class="co" d="M825.6 657.2 L826.4 660.4 L806.0 660.9 L782.4 662.0"/>
<path class="co" d="M826.4 660.4 L834.2 672.2 L859.3 678.4 L878.2 686.3"/>
<path class="co" d="M639.2 609.7 L639.2 658.1 L639.2 695.0 L639.2 735.1"/>
<path class="co" d="M629.4 609.4 L639.2 609.7 L671.8 609.7 L674.2 611.3 L676.5 613.8"/>
<path class="co" d="M671.8 604.7 L673.4 608.6 L674.2 611.3"/>
<path class="co" d="M676.5 613.8 L689.1 614.9 L703.2 615.7 L716.1 616.0 L725.2 622.6"/>
<path class="co" d="M716.1 598.4 L716.1 616.0"/>
<path class="co" d="M639.2 658.1 L682.0 658.4"/>
<path class="co" d="M682.0 629.8 L682.0 658.4 L682.3 671.5"/>
<path class="co" d="M682.3 671.5 L693.0 671.9 L725.2 672.2 L737.0 672.4 L781.4 672.2"/>
<path class="co" d="M725.2 622.6 L725.5 647.1 L725.2 672.2"/>
<path class="co" d="M693.0 671.9 L693.0 695.0 L693.3 714.6"/>
<path class="co" d="M639.2 695.0 L693.0 695.0"/>
<path class="co" d="M737.0 672.4 L737.0 714.6"/>
<path class="co" d="M693.3 714.6 L707.9 715.4 L737.0 714.6 L768.4 714.3 L790.4 713.4"/>
<path class="co" d="M707.9 715.4 L707.6 734.7 L707.9 750.8"/>
<path class="co" d="M707.9 750.8 L740.9 750.4 L768.4 749.2"/>
<path class="co" d="M768.4 714.3 L768.7 733.5 L768.4 749.2"/>
<path class="co" d="M639.2 735.1 L669.5 735.1 L707.6 734.7"/>
<path class="co" d="M669.5 735.1 L669.5 757.0"/>
<path class="co" d="M652.2 757.5 L669.5 757.0 L675.0 757.0 L675.0 773.5 L682.8 773.5 L717.4 773.5 L729.9 778.2 L740.9 783.7 L753.5 790.8"/>
<path class="co" d="M682.8 773.5 L682.8 799.4"/>
<path class="co" d="M652.2 757.5 L651.1 764.9 L649.8 772.7 L648.6 780.6 L647.5 788.4 L645.9 794.7 L646.7 799.4"/>
<path class="co" d="M740.9 750.4 L740.9 783.7"/>
<path class="co" d="M768.4 749.2 L783.3 768.3 L794.3 760.2 L805.3 728.8 L806.9 719.3 L810.8 713.1 L814.7 702.1"/>
<path class="co" d="M783.3 768.3 L774.7 777.4 L766.0 785.3 L753.5 790.8"/>
<path class="co" d="M805.3 728.8 L824.9 743.7 L844.6 758.6"/>
<path class="co" d="M794.3 760.2 L806.1 768.8 L817.9 777.4 L821.0 784.0"/>
<path class="co" d="M844.6 758.6 L836.7 766.5 L828.9 775.9 L821.0 784.0"/>
<path class="co" d="M749.2 623.6 L752.7 625.9 L755.1 623.6 L758.2 628.3 L762.9 631.4 L767.6 636.1 L769.2 645.5 L770.8 651.8 L777.0 655.0 L780.2 662.8 L781.7 672.2 L781.0 678.5 L784.9 681.7 L785.7 689.5 L783.3 695.8 L784.9 703.6 L788.8 708.4 L789.9 713.4"/>
<path class="co" d="M821.8 682.4 L832.8 673.0"/>
<path class="co" d="M821.8 682.4 L817.1 692.7 L814.7 702.1"/>
<path class="co" d="M814.7 702.1 L822.6 702.1 L827.3 706.8 L830.4 713.1 L835.1 717.8 L843.0 716.2 L852.4 712.3 L861.8 713.9 L871.3 715.9"/>
<path class="co" d="M820.7 647.7 L826.0 656.8"/>
<path class="co" d="M455.9 558.2 L455.1 600.5"/>
<path class="co" d="M499.1 558.8 L498.8 600.9 L499.1 657.8"/>
<path class="co" d="M542.3 559.6 L542.0 601.6 L542.3 613.8"/>
<path class="co" d="M580.0 560.1 L578.4 597.8"/>
<path class="co" d="M628.6 560.1 L629.0 597.8 L629.1 609.4"/>
<path class="co" d="M673.1 560.1 L673.1 609.4"/>
<path class="co" d="M411.2 599.7 L430.0 600.1 L453.6 600.5 L499.1 600.9 L542.0 601.6"/>
<path class="co" d="M542.0 611.0 L576.0 610.4 L576.8 598.1 L629.0 597.8"/>
<path class="co" d="M541.2 615.1 L591.0 615.1 L591.0 657.5"/>
<path class="co" d="M453.6 600.5 L453.2 627.9 L453.6 657.0"/>
<path class="co" d="M444.1 655.4 L453.6 657.0 L499.1 657.8 L541.5 658.1 L567.4 657.8 L591.0 657.5 L639.6 657.5"/>
<path class="co" d="M542.0 611.0 L541.5 634.2 L541.5 658.1"/>
<path class="co" d="M567.4 657.8 L567.4 695.2 L567.7 736.0"/>
<path class="co" d="M567.4 695.2 L639.6 695.5"/>
<path class="co" d="M499.1 736.3 L567.4 736.0 L639.6 736.0"/>
<path class="co" d="M426.9 637.4 L436.3 639.7 L440.2 648.4 L444.1 655.4 L450.4 659.3 L458.3 662.5 L467.7 665.6 L477.1 665.6 L485.0 670.3 L490.5 676.6 L492.8 684.5 L496.0 693.9 L499.1 698.6 L505.4 701.7 L507.7 706.5 L505.4 712.7 L501.5 719.0 L503.8 725.3 L507.7 728.4 L502.2 732.4 L499.1 736.3"/>
<path class="co" d="M449.6 739.4 L449.6 704.9 L467.7 704.6 L467.7 698.9 L499.1 698.6"/>
<path class="co" d="M146.8 555.8 L146.0 585.4 L145.0 614.3"/>
<path class="co" d="M237.2 560.3 L235.5 605.5 L233.5 650.8 L231.0 693.0"/>
<path class="co" d="M311.9 562.8 L306.8 608.0 L302.6 651.5"/>
<path class="co" d="M231.0 693.0 L266.1 672.4 L302.6 651.5"/>
<path class="co" d="M302.6 651.5 L323.9 667.8 L345.3 684.7 L356.6 694.7"/>
<path class="co" d="M394.3 629.4 L369.6 657.0 L345.3 684.7"/>
<path class="co" d="M231.0 696.0 L273.7 707.5 L317.6 719.3 L325.2 719.8"/>
<path class="co" d="M325.2 719.8 L356.6 696.5"/>
<path class="co" d="M325.2 719.8 L323.9 766.3 L322.4 831.2"/>
<path class="co" d="M356.6 694.7 L396.8 728.6 L440.0 763.8 L450.8 773.9"/>
<path class="co" d="M314.4 563.3 L317.6 567.8 L323.9 575.4 L327.7 580.9 L331.5 585.4 L336.0 589.9 L340.3 594.2 L346.5 598.0 L352.8 600.0 L353.6 605.5 L354.1 610.6 L355.3 615.1 L357.1 618.6 L362.9 620.6 L369.1 621.9 L376.7 623.6 L384.2 625.6 L389.2 627.6 L394.3 629.4 L401.8 633.2 L409.3 636.9 L415.6 634.7 L421.9 633.2 L430.7 636.2 L442.0 639.7"/>
<path class="co" d="M369.6 565.8 L369.1 582.9 L368.6 599.2"/>
<path class="co" d="M352.8 599.5 L368.6 599.2 L414.4 600.0 L432.0 600.5"/>
<path class="co" d="M414.4 572.9 L414.1 586.7 L413.9 600.0"/>
<path class="co" d="M416.1 600.5 L415.4 618.1 L414.9 634.4"/>
<path class="co" d="M429.4 756.6 L429.4 735.3 L449.5 735.3 L449.5 704.6"/>
<path class="co" d="M499.7 736.5 L499.7 760.4 L499.7 784.3"/>
<path class="co" d="M493.5 677.5 L495.5 687.5 L497.2 695.1 L504.8 700.1 L508.5 705.1 L507.3 712.7 L501.0 720.2 L503.5 726.5 L508.0 729.0 L501.0 734.0 L499.7 736.5"/>
<path class="co" d="M588.9 735.8 L588.9 801.9 L588.2 830.8 L585.2 839.5"/>
<path class="co" d="M588.9 801.9 L640.5 801.9 L683.2 801.9 L702.0 801.9"/>
<path class="co" d="M640.5 801.9 L639.7 854.6 L639.2 897.3 L639.2 941.3"/>
<path class="co" d="M592.7 854.1 L639.7 854.6 L702.0 853.9"/>
<path class="co" d="M639.2 897.3 L702.0 898.1"/>
<path class="co" d="M632.9 941.3 L639.2 941.3 L702.0 941.8"/>
<path class="co" d="M753.5 790.8 L759.7 789.8 L769.1 787.0 L775.4 788.3 L781.7 789.8"/>
<path class="co" d="M781.7 789.8 L787.9 796.1 L794.2 801.6 L797.4 806.3 L800.5 808.7 L804.9 810.6 L808.4 813.4 L809.9 818.1 L811.5 822.5"/>
<path class="co" d="M809.9 820.5 L798.9 835.4 L787.9 850.3"/>
<path class="co" d="M787.9 850.3 L770.7 844.8 L753.4 839.3"/>
<path class="co" d="M752.6 791.1 L753.1 815.0 L753.4 839.3 L753.4 869.9 L753.4 898.2 L753.7 929.6 L754.2 959.4"/>
<path class="co" d="M821.1 784.0 L809.9 786.4 L800.5 785.1 L794.2 783.6 L787.9 787.5 L781.7 789.8"/>
<path class="co" d="M821.1 784.0 L833.5 792.2 L846.4 800.7"/>
<path class="co" d="M846.4 800.7 L839.8 812.1 L833.5 823.6"/>
<path class="co" d="M833.5 823.6 L822.5 823.1 L811.5 822.5"/>
<path class="co" d="M833.5 823.6 L846.8 838.8"/>
<path class="co" d="M846.8 838.8 L828.8 854.2 L810.2 869.9"/>
<path class="co" d="M787.9 850.3 L798.9 860.5 L810.2 869.9 L812.3 879.3"/>
<path class="co" d="M812.3 879.3 L815.4 885.6 L816.2 893.5 L827.2 916.2 L838.2 939.0 L835.1 943.7 L831.1 948.4"/>
<path class="co" d="M797.0 898.5 L805.2 890.0 L812.8 881.7"/>
<path class="co" d="M698.4 802.1 L735.3 802.1 L736.9 807.1 L742.4 803.7 L748.7 799.3 L752.6 791.1"/>
<path class="co" d="M698.4 854.2 L726.7 854.2 L753.4 853.9"/>
<path class="co" d="M698.4 898.2 L725.1 897.9 L753.4 898.2 L794.2 898.8 L797.0 898.5"/>
<path class="co" d="M794.2 898.8 L794.2 929.6 L794.5 959.4"/>
<path class="co" d="M700.8 802.1 L700.8 854.2 L700.5 898.2"/>
<path class="co" d="M846.4 800.7 L864.1 791.1 L881.8 781.4"/>
<path class="co" d="M890.5 798.6 L888.4 810.3 L891.6 822.8"/>
<path class="co" d="M846.8 838.8 L869.6 830.7 L891.6 822.8"/>
<path class="co" d="M891.6 822.8 L897.9 832.2 L902.6 841.7 L901.0 854.2"/>
<path class="co" d="M846.8 838.8 L843.7 860.5 L850.8 868.4 L858.6 876.2"/>
<path class="co" d="M858.6 876.2 L850.0 886.4 L841.3 896.6 L847.6 901.3"/>
<path class="co" d="M816.2 893.5 L828.8 895.1 L841.3 896.6"/>
<path class="co" d="M858.6 876.2 L871.2 868.4 L882.9 872.3"/>
<path class="co" d="M882.9 872.3 L891.9 863.3 L901.0 854.2"/>
<path class="co" d="M882.9 872.3 L894.7 888.8 L896.3 901.3"/>
<path class="co" d="M847.6 901.3 L857.0 910.8 L875.9 918.6 L877.4 923.3"/>
<path class="co" d="M877.4 923.3 L886.9 912.3 L896.3 901.3"/>
<path class="co" d="M877.4 923.3 L872.0 931.2 L866.5 939.0"/>
<path class="co" d="M838.2 939.0 L852.3 939.3 L866.5 939.0"/>
<path class="co" d="M916.4 796.1 L925.5 806.0 L933.4 813.8 L938.1 823.2 L942.0 832.7"/>
<path class="co" d="M942.0 832.7 L953.8 822.4 L965.6 811.5 L967.9 802.8 L980.5 795.7 L988.4 799.7"/>
<path class="co" d="M988.4 799.7 L988.4 809.1 L996.2 818.5 L1005.6 827.9 L1007.2 837.4 L1013.5 848.4 L1016.6 857.8 L1024.5 860.9 L1030.8 865.6 L1037.0 870.3"/>
<path class="co" d="M1038.9 795.4 L1041.7 802.8 L1037.0 809.1 L1030.8 815.4 L1021.3 818.5 L1010.3 823.2 L1005.6 827.9"/>
<path class="co" d="M1065.6 808.0 L1057.8 804.9 L1065.3 813.8 L1068.4 821.7 L1073.9 825.6 L1080.2 829.8"/>
<path class="co" d="M1065.6 808.0 L1073.2 804.4 L1081.0 802.8 L1086.0 800.9"/>
<path class="co" d="M942.0 832.7 L953.8 846.8 L967.9 860.9"/>
<path class="co" d="M967.9 860.9 L980.5 853.1 L989.9 848.4 L999.3 846.8 L1013.5 849.1"/>
<path class="co" d="M967.9 860.9 L967.9 881.3 L962.0 884.8"/>
<path class="co" d="M942.0 832.7 L927.1 836.6 L913.0 840.5"/>
<path class="co" d="M913.0 840.5 L903.6 857.8 L895.7 870.3 L894.1 886.0 L895.7 892.6"/>
<path class="co" d="M913.0 840.5 L906.7 834.2 L899.9 824.8"/>
<path class="co" d="M894.1 886.0 L903.6 889.2 L913.8 891.1"/>
<path class="co" d="M702.6 938.4 L702.6 956.5 L754.4 954.4 L794.9 953.2 L831.3 954.1"/>
<path class="co" d="M754.4 954.4 L754.4 1023.2 L755.2 1031.9"/>
<path class="co" d="M755.2 1031.9 L742.6 1032.7 L718.3 1030.3 L694.7 1026.1"/>
<path class="co" d="M742.6 1032.7 L742.6 1079.0"/>
<path class="co" d="M754.4 1023.2 L775.6 1022.4 L780.3 1026.1 L781.1 1031.9"/>
<path class="co" d="M781.1 1031.9 L784.2 1040.5 L785.0 1048.4 L788.1 1053.1 L788.9 1079.0"/>
<path class="co" d="M781.1 1031.9 L806.2 1031.4 L819.6 1031.4 L826.6 1031.9"/>
<path class="co" d="M805.4 953.8 L804.9 991.8 L806.2 1031.4"/>
<path class="co" d="M831.2 948.5 L831.3 954.1 L836.0 955.7 L840.8 956.0 L840.0 963.6 L831.3 967.5 L829.8 971.4 L829.4 995.0 L819.6 995.0 L819.6 1031.4"/>
<path class="co" d="M829.4 995.0 L836.0 1000.5 L847.0 1002.0 L862.7 1000.5 L878.4 999.7 L883.9 1000.5"/>
<path class="co" d="M826.6 1031.9 L828.2 1035.8 L836.0 1033.4 L847.0 1031.1 L856.5 1032.7 L865.9 1031.1 L875.0 1032.7"/>
<path class="co" d="M826.6 1031.9 L826.9 1056.2 L827.4 1079.0 L827.9 1094.7"/>
<path class="co" d="M742.6 1079.0 L788.9 1079.0 L798.4 1079.4 L827.4 1078.8"/>
<path class="co" d="M742.6 1079.4 L738.7 1090.8 L731.6 1095.5 L724.5 1100.2"/>
<path class="co" d="M798.4 1079.4 L788.1 1104.1 L777.9 1128.4 L774.8 1134.4"/>
<path class="co" d="M827.9 1094.7 L851.7 1094.7 L876.6 1094.7"/>
<path class="co" d="M827.9 1094.7 L829.0 1103.3 L826.9 1111.2 L838.9 1113.5 L854.9 1119.0 L869.0 1123.7 L874.5 1121.4 L879.2 1118.2"/>
<path class="co" d="M838.9 1113.5 L840.0 1126.9 L841.1 1139.4"/>
<path class="co" d="M701.1 897.7 L701.8 925.3 L702.8 942.9"/>
<path class="st" d="M404.0 122.6 L475.1 123.4 L561.0 123.9 L648.2 124.4 L648.2 313.6 L652.8 315.6 L657.3 317.6 L661.6 321.4 L664.8 325.1 L667.8 330.2 L675.4 329.6 L682.9 327.6 L690.5 325.9 L696.7 325.1 L703.0 327.1 L708.0 330.2 L711.8 333.9 L713.1 337.7 L714.3 342.7 L715.1 347.7 L720.6 350.3 L725.6 351.5 L731.9 353.3 L738.2 354.0 L744.5 355.8 L750.8 355.3 L755.8 353.8 L760.8 354.0 L767.1 358.3 L773.4 361.6 L777.1 358.3 L780.9 356.5 L787.2 358.3 L793.5 357.8 L798.5 354.8 L801.0 354.0 L803.5 357.8 L804.8 361.6 L808.5 365.3 L812.3 368.3 L816.1 370.9 L821.1 371.6 L831.2 372.9 L851.3 375.4 L871.4 379.1 L878.9 384.2 L882.7 386.7 L886.4 382.9 L888.9 378.4 L892.7 375.4 L896.5 372.9 L899.5 372.9 L902.8 377.4 L905.3 380.4 L910.3 379.9 L916.6 377.9 L920.4 375.4 L924.1 375.9 L927.9 379.9 L931.7 382.9 L936.7 385.4 L941.7 386.7 L946.2 391.0 L949.2 395.5 L953.0 391.0 L956.8 387.9 L961.8 386.7 L966.8 385.4 L975.6 381.7 L984.4 377.9 L993.1 377.7 L998.1 373.9 L1003.6 370.7 L1009.4 368.9 L1015.2 371.4 L1020.7 372.7 L1027.0 372.7 L1033.3 371.4 L1035.8 367.1 L1038.3 365.1 L1042.8 367.1 L1047.1 368.9 L1053.4 372.7 L1058.4 376.4 L1064.7 380.2 L1071.0 382.7 L1076.0 387.2 L1081.0 390.3 L1087.3 392.3 L1093.6 392.8 L1101.6 394.0 L1106.1 398.3 L1111.2 401.6 L1117.4 401.1 L1123.7 400.3 L1130.0 399.0 L1136.3 398.3 L1138.8 401.6 L1140.8 427.9 L1142.6 453.1 L1143.3 485.7 L1143.8 515.9 L1145.3 533.5 L1146.8 551.1 L1150.1 556.1 L1153.4 559.8 L1156.4 563.6 L1160.2 567.4 L1163.9 571.2 L1166.4 576.2 L1167.7 581.2 L1166.9 586.2 L1166.4 591.3 L1169.4 595.0 L1172.7 598.8 L1176.0 602.6 L1179.0 606.3 L1181.5 611.4 L1184.0 616.4 L1188.5 622.7 L1192.8 628.9 L1195.3 636.5 L1197.8 644.0 L1194.1 635.4 L1195.6 642.9 L1195.3 650.5 L1193.6 659.2 L1191.6 668.0 L1188.5 676.8 L1185.3 685.6 L1183.0 693.2 L1181.5 700.7 L1183.5 708.2 L1185.3 715.8 L1187.0 720.8 L1187.8 725.8 L1186.5 733.4 L1185.3 740.9 L1182.8 747.2 L1180.3 753.5 L1177.7 758.5 L1176.5 763.5 L1180.2 749.0 L1178.2 753.6 L1176.4 758.1 L1174.9 762.6 L1173.4 767.1 L1172.5 770.9 L1171.9 774.7 L1173.4 776.9 L1175.6 778.9 L1170.4 780.7 L1165.8 782.2 L1160.6 783.7 L1155.3 785.2 L1150.0 787.5 L1144.7 789.8 L1139.5 792.3 L1134.2 795.0 L1128.9 797.3 L1123.6 799.6 L1119.1 801.4 L1114.6 803.3 L1110.8 805.1 L1107.8 807.1 L1105.5 810.6 L1099.5 816.1 L1093.5 822.2 L1087.4 827.7 L1081.4 833.5 L1076.1 839.5 L1070.9 845.5 L1065.6 850.8 L1060.3 856.1 L1054.3 861.1 L1048.2 865.9 L1041.5 870.9 L1034.7 875.7 L1026.4 880.2 L1018.1 884.7 L1009.0 889.3 L1000.0 893.8 L1066.1 850.6 L1058.6 856.6 L1051.1 862.6 L1043.5 867.6 L1036.0 872.4 L1028.5 877.4 L1020.9 882.2 L1013.4 886.4 L1005.8 890.5 L998.3 895.0 L990.8 899.6 L983.2 904.1 L975.7 908.6 L969.7 912.7 L963.6 916.9 L957.6 921.4 L951.6 925.9 L946.3 930.8 L941.0 935.7 L935.7 940.6 L930.5 945.5 L925.9 950.8 L921.4 956.1 L916.9 961.7 L912.4 967.4 L908.6 973.0 L904.8 978.7 L901.1 984.7 L897.3 990.8 L894.3 997.5 L891.3 1004.3 L889.0 1011.1 L886.7 1017.9 L884.9 1024.7 L883.7 1030.0 L879.9 1035.9 L879.4 1044.7 L879.9 1053.5 L880.7 1063.5 L882.5 1073.6 L885.2 1083.6 L888.7 1093.7 L892.5 1105.0 L896.3 1116.3 L899.0 1126.3 L901.3 1136.4 L902.8 1146.4 L904.3 1156.5 L901.3 1157.7 L897.5 1157.2 L893.8 1156.5 L890.8 1159.0 L887.5 1161.5 L885.7 1165.3 L883.7 1169.0 L880.7 1167.3 L877.4 1165.3 L871.7 1163.5 L866.1 1161.5 L861.1 1157.0 L856.1 1152.7 L848.5 1151.0 L841.0 1148.9 L836.0 1149.7 L831.0 1150.2 L823.4 1148.4 L815.9 1146.4 L807.1 1145.9 L798.3 1145.2 L793.3 1140.9 L788.2 1136.4 L782.7 1133.9 L776.9 1131.4 L772.7 1132.4 L768.1 1132.6 L763.1 1129.6 L758.1 1126.3 L751.8 1122.6 L745.5 1118.8 L740.0 1117.8 L734.2 1116.3 L729.7 1108.2 L725.4 1099.9 L722.9 1093.2 L720.4 1086.1 L716.6 1079.8 L712.9 1073.6 L707.8 1066.0 L702.8 1058.5 L700.3 1052.2 L699.0 1045.9 L699.8 1040.9 L701.6 1035.9 L701.3 1029.6 L700.3 1023.3 L697.3 1020.1 L694.0 1015.8 L693.3 1009.5 L686.9 997.1 L679.4 994.6 L671.9 991.6 L666.8 986.5 L661.8 981.5 L659.3 975.2 L656.8 968.9 L653.0 962.7 L649.2 956.4 L643.7 950.1 L637.9 943.8 L633.7 940.1 L629.1 936.3 L625.4 930.8 L621.6 925.0 L621.1 918.2 L620.4 911.2 L614.6 903.6 L609.0 896.1 L607.0 889.8 L605.3 883.5 L601.0 877.2 L596.5 871.0 L594.5 865.9 L592.7 860.9 L589.4 853.9 L586.4 847.1 L585.2 843.3 L583.9 839.5 L578.9 836.3 L573.9 833.3 L568.8 830.3 L563.8 827.0 L560.1 822.7 L556.3 818.2 L550.0 814.4 L543.7 810.7 L543.2 806.1 L542.5 801.9 L539.9 802.1 L537.4 803.1 L534.2 798.6 L531.2 794.3 L528.6 790.6 L526.1 786.8 L521.1 785.0 L516.1 783.0 L512.3 784.5 L508.5 786.8 L504.0 785.8 L499.7 784.3 L496.0 783.0 L488.4 782.5 L480.9 781.8 L475.9 782.3 L470.9 783.0 L465.8 782.0 L460.8 780.5 L455.8 778.0 L450.8 775.5 L448.2 776.7 L445.7 780.5 L443.2 784.3 L438.2 785.0 L433.2 785.5 L426.9 786.5 L420.1 788.0 L416.8 793.1 L413.1 799.3 L409.3 805.6 L407.5 811.9 L405.5 818.2 L403.0 823.2 L400.5 828.2 L401.0 833.3 L400.5 838.8 L395.5 840.8 L390.5 843.3 L386.7 848.3 L382.9 853.4 L380.9 857.1 L379.1 860.9 L372.9 860.9 L366.6 860.4 L361.6 857.1 L355.8 854.6 L350.3 852.1 L344.0 847.6 L337.7 843.3 L331.4 839.5 L325.1 835.8 L320.1 832.5 L315.1 829.5 L307.5 826.5 L291.3 817.1 L285.0 809.0 L277.4 805.3 L271.2 800.3 L266.1 794.0 L261.1 786.4 L257.3 780.2 L253.6 771.4 L251.1 763.8 L248.5 753.8 L247.3 745.0 L248.5 736.2 L243.5 727.4 L238.5 718.6 L234.7 711.1 L233.5 701.0 L231.0 696.0 L225.9 692.2 L219.6 687.2 L213.4 679.6 L207.1 675.9 L200.8 673.4 L193.3 669.6 L188.2 663.3 L182.0 658.3 L176.9 650.8 L170.7 644.5 L165.6 640.7 L158.1 631.9 L151.8 625.6 L146.8 616.1 L139.2 614.3 L134.2 612.6 L129.2 610.6 L124.9 605.5 L120.4 600.5 L116.6 594.2 L112.9 585.4 L104.1 580.4 L95.8 574.6 L92.3 569.1 L91.5 564.1 L92.8 559.0 L92.8 553.3 L146.8 555.8 L237.2 560.3 L313.9 562.8 L391.8 564.8 L391.8 555.8 L393.9 471.7 L398.2 380.0 L401.0 294.7 L404.0 122.6Z"/>
<path class="st" d="M1100.2 348.4 L1101.0 372.0 L1101.8 393.2"/>
<path class="st" d="M1142.6 452.1 L1151.3 451.8 L1236.1 447.0"/>
<path class="st" d="M35.0 571.9 L50.1 572.4 L72.7 573.6 L95.8 574.6"/>
<path class="st" d="M1175.6 778.9 L1179.4 779.5 L1183.9 776.5 L1188.5 773.9 L1195.2 771.4 L1202.0 769.4 L1209.6 768.0 L1217.1 767.1 L1226.1 766.5 L1236.7 766.2"/>
<path class="st" d="M407.6 105.0 L407.6 122.8"/>
<path class="st" d="M1110.0 111.0 L1164.0 109.3"/>
<path class="st" d="M1076.0 108.0 L1086.0 165.0 L1097.0 220.6 L1099.0 290.0 L1100.2 348.4"/>
<path class="st" d="M904.5 1158.0 L905.5 1175.0"/>
<text x="224.0" y="314.3" class="sl">NM</text>
<text x="876.4" y="248.3" class="sl">OK</text>
<text x="1095.0" y="124.6" class="sl">MO</text>
<text x="1170.4" y="331.2" class="sl">AR</text>
<text x="1199.0" y="595.0" class="sl">LA</text>
<g class="cl hl">
<text x="439.1" y="150.2">Dallam</text>
<text x="508.7" y="146.5">Sherman</text>
<text x="602.7" y="133.1">Ochiltree</text>
<text x="625.6" y="152.2">Lipscomb</text>
<text x="529.6" y="171.1">Hansford</text>
<text x="646.4" y="177.1">Hemphill</text>
<text x="437.9" y="192.9">Hartley</text>
<text x="493.9" y="192.4">Moore</text>
<text x="581.1" y="192.2">Roberts</text>
<text x="551.0" y="213.0">Hutchinson</text>
<text x="439.1" y="236.2">Oldham</text>
<text x="495.7" y="236.9">Potter</text>
<text x="578.6" y="235.2">Gray</text>
<text x="638.4" y="233.1">Wheeler</text>
<text x="550.5" y="257.0">Carson</text>
<text x="646.4" y="262.8">Collingsworth</text>
<text x="436.6" y="270.1">Deaf</text>
<text x="436.1" y="287.9">Smith</text>
<text x="492.4" y="277.1">Randall</text>
<text x="567.3" y="277.1">Donley</text>
<text x="550.2" y="300.5">Armstrong</text>
<text x="634.4" y="306.8">Childress</text>
<text x="407.0" y="319.1">Parmer</text>
<text x="463.0" y="323.1">Castro</text>
<text x="547.9" y="321.1">Briscoe</text>
<text x="597.4" y="327.9">Hall</text>
<text x="503.2" y="344.9">Swisher</text>
<text x="575.3" y="347.0">Motley</text>
<text x="403.5" y="360.0">Bailey</text>
<text x="455.0" y="368.8">Lamb</text>
<text x="499.7" y="368.1">Hale</text>
<text x="542.2" y="368.8">Floyd</text>
<text x="518.3" y="396.3">Lubbock</text>
<text x="454.0" y="410.9">Hockley</text>
<text x="527.1" y="420.2">Crosby</text>
<text x="399.4" y="432.0">Cochran</text>
<text x="595.7" y="432.7">Dickens</text>
<text x="456.2" y="442.3">Terry</text>
<text x="402.0" y="452.8">Yoakum</text>
<text x="497.7" y="457.4">Lynn</text>
<text x="541.7" y="456.1">Garza</text>
<text x="583.6" y="457.1">Kent</text>
<text x="564.8" y="484.2">Scurry</text>
<text x="427.3" y="496.8">Gaines</text>
<text x="489.9" y="496.3">Dawson</text>
<text x="614.5" y="501.1">Fisher</text>
<text x="541.4" y="518.2">Borden</text>
<text x="426.6" y="537.0">Andrews</text>
<text x="489.1" y="538.8">Martin</text>
<text x="557.2" y="540.0">Mitchell</text>
<text x="614.3" y="544.0">Nolan</text>
<text x="409.0" y="570.4">Winkler</text>
<text x="669.1" y="338.4">Hardeman</text>
<text x="708.0" y="358.3">Wilbarger</text>
<text x="774.6" y="378.4">Wichita</text>
<text x="851.3" y="382.4">Montague</text>
<text x="620.6" y="378.4">Cottle</text>
<text x="670.4" y="379.1">Foard</text>
<text x="795.5" y="399.7">Clay</text>
<text x="625.9" y="405.5">King</text>
<text x="670.9" y="407.3">Knox</text>
<text x="751.3" y="406.3">Archer</text>
<text x="878.9" y="410.0">Cooke</text>
<text x="703.0" y="432.4">Baylor</text>
<text x="800.3" y="437.7">Jack</text>
<text x="865.1" y="434.4">Denton</text>
<text x="639.4" y="452.0">Stonewall</text>
<text x="755.8" y="454.0">Young</text>
<text x="843.2" y="454.0">Wise</text>
<text x="704.3" y="476.6">Throckmorton</text>
<text x="789.7" y="486.7">Palo</text>
<text x="789.7" y="505.3">Pinto</text>
<text x="843.2" y="489.2">Parker</text>
<text x="902.3" y="490.2">Dallas</text>
<text x="714.3" y="494.7">Shackelford</text>
<text x="662.1" y="513.0">Jones</text>
<text x="863.8" y="513.5">Tarrant</text>
<text x="812.3" y="527.9">Hood</text>
<text x="868.3" y="531.1">Johnson</text>
<text x="671.6" y="536.2">Taylor</text>
<text x="745.7" y="536.9">Eastland</text>
<text x="800.3" y="552.5">Erath</text>
<text x="712.3" y="562.0">Callahan</text>
<text x="660.3" y="578.9">Runnels</text>
<text x="772.1" y="578.9">Comanche</text>
<text x="751.3" y="595.2">Brown</text>
<text x="686.7" y="603.2">Coleman</text>
<text x="974.6" y="388.3">Fannin</text>
<text x="938.2" y="410.3">Grayson</text>
<text x="1011.2" y="406.8">Lamar</text>
<text x="1058.9" y="399.8">Red</text>
<text x="1058.6" y="419.4">River</text>
<text x="1108.9" y="417.0">Bowie</text>
<text x="1005.5" y="429.3">Delta</text>
<text x="1066.8" y="437.8">Titus</text>
<text x="1119.8" y="444.2">Cass</text>
<text x="931.9" y="441.4">Collin</text>
<text x="972.2" y="451.9">Hunt</text>
<text x="1026.9" y="462.3">Hopkins</text>
<text x="1084.5" y="464.9">Morris</text>
<text x="943.7" y="472.0">Rockwall</text>
<text x="997.4" y="480.2">Rains</text>
<text x="1081.4" y="489.7">Upshur</text>
<text x="1034.3" y="497.1">Wood</text>
<text x="995.5" y="502.6">Van</text>
<text x="995.0" y="520.7">Zandt</text>
<text x="938.5" y="507.0">Kaufman</text>
<text x="1042.9" y="517.1">Smith</text>
<text x="1087.7" y="519.9">Gregg</text>
<text x="922.0" y="533.2">Ellis</text>
<text x="998.9" y="539.0">Henderson</text>
<text x="1067.7" y="541.9">Rusk</text>
<text x="1142.1" y="475.2">Marion</text>
<text x="1143.3" y="501.3">Harrison</text>
<text x="1123.2" y="553.0">Panola</text>
<text x="944.0" y="562.9">Navarro</text>
<text x="1028.8" y="561.3">Anderson</text>
<text x="1077.4" y="577.5">Nacogdoches</text>
<text x="971.5" y="593.2">Freestone</text>
<text x="1061.7" y="597.4">Cherokee</text>
<text x="1037.9" y="628.4">Houston</text>
<text x="984.3" y="633.1">Leon</text>
<text x="1060.2" y="652.4">Trinity</text>
<text x="944.0" y="664.2">Robertson</text>
<text x="1138.8" y="615.3">San Augustine</text>
<text x="1120.7" y="636.6">Angelina</text>
<text x="1186.9" y="634.8">Sabine</text>
<text x="1142.6" y="665.9">Jasper</text>
<text x="1079.3" y="675.7">Polk</text>
<text x="1128.8" y="687.9">Tyler</text>
<text x="1023.6" y="687.9">Walker</text>
<text x="1071.0" y="698.0">San</text>
<text x="1071.0" y="716.0">Jacinto</text>
<text x="1179.0" y="705.5">Newton</text>
<text x="1126.4" y="720.4">Hardin</text>
<text x="1170.4" y="743.2">Orange</text>
<text x="1051.0" y="766.0">Harris</text>
<text x="1103.6" y="762.5">Liberty</text>
<text x="1172.0" y="770.7">Jefferson</text>
<text x="1132.7" y="795.0">Chambers</text>
<text x="862.2" y="665.1">Bell</text>
<text x="904.6" y="687.1">Milam</text>
<text x="932.1" y="708.1">Burleson</text>
<text x="999.6" y="710.2">Grimes</text>
<text x="939.9" y="735.6">Washington</text>
<text x="1030.2" y="732.6">Montgomery</text>
<text x="876.3" y="755.4">Bastrop</text>
<text x="945.4" y="758.4">Austin</text>
<text x="913.2" y="777.2">Fayette</text>
<text x="994.1" y="778.2">Waller</text>
<text x="947.8" y="802.0">Colorado</text>
<text x="1012.2" y="799.7">Fort</text>
<text x="1012.2" y="817.0">Bend</text>
<text x="923.4" y="824.3">Lavaca</text>
<text x="1088.9" y="817.4">Galveston</text>
<text x="1048.2" y="836.2">Brazoria</text>
<text x="978.9" y="847.1">Wharton</text>
<text x="929.5" y="863.9">Jackson</text>
<text x="1000.9" y="880.1">Matagorda</text>
<text x="912.2" y="884.0">Victoria</text>
<text x="938.1" y="905.2">Calhoun</text>
<text x="906.0" y="929.0">Refugio</text>
<text x="916.9" y="949.5">Aransas</text>
<text x="884.8" y="969.1">San Patricio</text>
<text x="852.3" y="782.6">Caldwell</text>
<text x="818.9" y="799.9">Guadalupe</text>
<text x="780.9" y="822.0">Bexar</text>
<text x="859.4" y="823.1">Gonzales</text>
<text x="726.4" y="832.2">Medina</text>
<text x="815.1" y="849.0">Wilson</text>
<text x="868.3" y="858.8">DeWitt</text>
<text x="728.3" y="879.9">Frio</text>
<text x="781.7" y="878.4">Atascosa</text>
<text x="842.9" y="891.1">Karnes</text>
<text x="760.9" y="903.2">McMullen</text>
<text x="879.0" y="909.8">Goliad</text>
<text x="728.0" y="922.0">La</text>
<text x="728.6" y="940.1">Salle</text>
<text x="809.9" y="924.4">Live</text>
<text x="809.9" y="942.1">Oak</text>
<text x="851.5" y="931.0">Bee</text>
<text x="805.7" y="964.6">Jim Wells</text>
<text x="715.9" y="997.9">Webb</text>
<text x="779.5" y="1000.0">Duval</text>
<text x="856.1" y="994.2">Nueces</text>
<text x="847.5" y="1024.0">Kleberg</text>
<text x="714.0" y="1039.7">Zapata</text>
<text x="765.7" y="1047.1">Jim</text>
<text x="765.7" y="1065.6">Hogg</text>
<text x="821.9" y="1058.9">Brooks</text>
<text x="851.7" y="1080.1">Kenedy</text>
<text x="759.1" y="1104.1">Starr</text>
<text x="858.8" y="1108.3">Willacy</text>
<text x="809.3" y="1132.7">Hidalgo</text>
<text x="880.7" y="1142.1">Cameron</text>
<text x="713.8" y="627.0">McCulloch</text>
<text x="747.2" y="645.4">San</text>
<text x="747.2" y="663.4">Saba</text>
<text x="666.8" y="662.3">Concho</text>
<text x="810.8" y="671.0">Burnet</text>
<text x="729.1" y="679.6">Mason</text>
<text x="672.6" y="693.7">Menard</text>
<text x="761.3" y="699.2">Llano</text>
<text x="836.7" y="698.4">Williamson</text>
<text x="665.5" y="718.9">Kimble</text>
<text x="781.7" y="721.5">Blanco</text>
<text x="738.9" y="738.2">Gillespie</text>
<text x="837.5" y="733.0">Travis</text>
<text x="686.0" y="749.2">Kerr</text>
<text x="817.9" y="763.1">Hays</text>
<text x="744.5" y="765.2">Kendall</text>
<text x="664.4" y="785.6">Real</text>
<text x="781.3" y="782.0">Comal</text>
<text x="716.1" y="796.9">Bandera</text>
<text x="886.5" y="569.6">Hill</text>
<text x="838.6" y="579.0">Bosque</text>
<text x="815.1" y="604.1">Hamilton</text>
<text x="886.0" y="604.9">McLennan</text>
<text x="826.1" y="623.0">Coryell</text>
<text x="906.5" y="641.8">Falls</text>
<text x="801.6" y="649.4">Lampasas</text>
<text x="518.7" y="562.0">Howard</text>
<text x="477.1" y="582.2">Midland</text>
<text x="549.0" y="589.4">Sterling</text>
<text x="604.0" y="584.3">Coke</text>
<text x="436.3" y="599.3">Ector</text>
<text x="517.9" y="606.2">Glasscock</text>
<text x="612.9" y="612.8">Tom</text>
<text x="612.9" y="631.1">Green</text>
<text x="477.9" y="628.2">Upton</text>
<text x="566.3" y="641.1">Irion</text>
<text x="453.9" y="652.3">Crane</text>
<text x="514.3" y="651.5">Reagan</text>
<text x="603.5" y="680.8">Schleicher</text>
<text x="528.6" y="690.3">Crockett</text>
<text x="603.2" y="720.1">Sutton</text>
<text x="121.7" y="579.9">El Paso</text>
<text x="188.7" y="613.0">Hudspeth</text>
<text x="274.2" y="594.9">Culberson</text>
<text x="348.3" y="585.4">Loving</text>
<text x="383.5" y="613.0">Ward</text>
<text x="338.2" y="633.9">Reeves</text>
<text x="294.5" y="688.9">Jeff Davis</text>
<text x="418.9" y="692.2">Pecos</text>
<text x="285.0" y="758.8">Presidio</text>
<text x="377.2" y="772.1">Brewster</text>
<text x="466.6" y="749.8">Terrell</text>
<text x="619.6" y="765.4">Edwards</text>
<text x="537.4" y="780.0">Val Verde</text>
<text x="665.6" y="821.9">Uvalde</text>
<text x="611.6" y="844.0">Kinney</text>
<text x="602.8" y="865.9">Maverick</text>
<text x="671.4" y="887.3">Zavala</text>
<text x="669.3" y="923.7">Dimmit</text>
</g><g class="cl fl">
<text x="439.1" y="150.2">Dallam</text>
<text x="508.7" y="146.5">Sherman</text>
<text x="602.7" y="133.1">Ochiltree</text>
<text x="625.6" y="152.2">Lipscomb</text>
<text x="529.6" y="171.1">Hansford</text>
<text x="646.4" y="177.1">Hemphill</text>
<text x="437.9" y="192.9">Hartley</text>
<text x="493.9" y="192.4">Moore</text>
<text x="581.1" y="192.2">Roberts</text>
<text x="551.0" y="213.0">Hutchinson</text>
<text x="439.1" y="236.2">Oldham</text>
<text x="495.7" y="236.9">Potter</text>
<text x="578.6" y="235.2">Gray</text>
<text x="638.4" y="233.1">Wheeler</text>
<text x="550.5" y="257.0">Carson</text>
<text x="646.4" y="262.8">Collingsworth</text>
<text x="436.6" y="270.1">Deaf</text>
<text x="436.1" y="287.9">Smith</text>
<text x="492.4" y="277.1">Randall</text>
<text x="567.3" y="277.1">Donley</text>
<text x="550.2" y="300.5">Armstrong</text>
<text x="634.4" y="306.8">Childress</text>
<text x="407.0" y="319.1">Parmer</text>
<text x="463.0" y="323.1">Castro</text>
<text x="547.9" y="321.1">Briscoe</text>
<text x="597.4" y="327.9">Hall</text>
<text x="503.2" y="344.9">Swisher</text>
<text x="575.3" y="347.0">Motley</text>
<text x="403.5" y="360.0">Bailey</text>
<text x="455.0" y="368.8">Lamb</text>
<text x="499.7" y="368.1">Hale</text>
<text x="542.2" y="368.8">Floyd</text>
<text x="518.3" y="396.3">Lubbock</text>
<text x="454.0" y="410.9">Hockley</text>
<text x="527.1" y="420.2">Crosby</text>
<text x="399.4" y="432.0">Cochran</text>
<text x="595.7" y="432.7">Dickens</text>
<text x="456.2" y="442.3">Terry</text>
<text x="402.0" y="452.8">Yoakum</text>
<text x="497.7" y="457.4">Lynn</text>
<text x="541.7" y="456.1">Garza</text>
<text x="583.6" y="457.1">Kent</text>
<text x="564.8" y="484.2">Scurry</text>
<text x="427.3" y="496.8">Gaines</text>
<text x="489.9" y="496.3">Dawson</text>
<text x="614.5" y="501.1">Fisher</text>
<text x="541.4" y="518.2">Borden</text>
<text x="426.6" y="537.0">Andrews</text>
<text x="489.1" y="538.8">Martin</text>
<text x="557.2" y="540.0">Mitchell</text>
<text x="614.3" y="544.0">Nolan</text>
<text x="409.0" y="570.4">Winkler</text>
<text x="669.1" y="338.4">Hardeman</text>
<text x="708.0" y="358.3">Wilbarger</text>
<text x="774.6" y="378.4">Wichita</text>
<text x="851.3" y="382.4">Montague</text>
<text x="620.6" y="378.4">Cottle</text>
<text x="670.4" y="379.1">Foard</text>
<text x="795.5" y="399.7">Clay</text>
<text x="625.9" y="405.5">King</text>
<text x="670.9" y="407.3">Knox</text>
<text x="751.3" y="406.3">Archer</text>
<text x="878.9" y="410.0">Cooke</text>
<text x="703.0" y="432.4">Baylor</text>
<text x="800.3" y="437.7">Jack</text>
<text x="865.1" y="434.4">Denton</text>
<text x="639.4" y="452.0">Stonewall</text>
<text x="755.8" y="454.0">Young</text>
<text x="843.2" y="454.0">Wise</text>
<text x="704.3" y="476.6">Throckmorton</text>
<text x="789.7" y="486.7">Palo</text>
<text x="789.7" y="505.3">Pinto</text>
<text x="843.2" y="489.2">Parker</text>
<text x="902.3" y="490.2">Dallas</text>
<text x="714.3" y="494.7">Shackelford</text>
<text x="662.1" y="513.0">Jones</text>
<text x="863.8" y="513.5">Tarrant</text>
<text x="812.3" y="527.9">Hood</text>
<text x="868.3" y="531.1">Johnson</text>
<text x="671.6" y="536.2">Taylor</text>
<text x="745.7" y="536.9">Eastland</text>
<text x="800.3" y="552.5">Erath</text>
<text x="712.3" y="562.0">Callahan</text>
<text x="660.3" y="578.9">Runnels</text>
<text x="772.1" y="578.9">Comanche</text>
<text x="751.3" y="595.2">Brown</text>
<text x="686.7" y="603.2">Coleman</text>
<text x="974.6" y="388.3">Fannin</text>
<text x="938.2" y="410.3">Grayson</text>
<text x="1011.2" y="406.8">Lamar</text>
<text x="1058.9" y="399.8">Red</text>
<text x="1058.6" y="419.4">River</text>
<text x="1108.9" y="417.0">Bowie</text>
<text x="1005.5" y="429.3">Delta</text>
<text x="1066.8" y="437.8">Titus</text>
<text x="1119.8" y="444.2">Cass</text>
<text x="931.9" y="441.4">Collin</text>
<text x="972.2" y="451.9">Hunt</text>
<text x="1026.9" y="462.3">Hopkins</text>
<text x="1084.5" y="464.9">Morris</text>
<text x="943.7" y="472.0">Rockwall</text>
<text x="997.4" y="480.2">Rains</text>
<text x="1081.4" y="489.7">Upshur</text>
<text x="1034.3" y="497.1">Wood</text>
<text x="995.5" y="502.6">Van</text>
<text x="995.0" y="520.7">Zandt</text>
<text x="938.5" y="507.0">Kaufman</text>
<text x="1042.9" y="517.1">Smith</text>
<text x="1087.7" y="519.9">Gregg</text>
<text x="922.0" y="533.2">Ellis</text>
<text x="998.9" y="539.0">Henderson</text>
<text x="1067.7" y="541.9">Rusk</text>
<text x="1142.1" y="475.2">Marion</text>
<text x="1143.3" y="501.3">Harrison</text>
<text x="1123.2" y="553.0">Panola</text>
<text x="944.0" y="562.9">Navarro</text>
<text x="1028.8" y="561.3">Anderson</text>
<text x="1077.4" y="577.5">Nacogdoches</text>
<text x="971.5" y="593.2">Freestone</text>
<text x="1061.7" y="597.4">Cherokee</text>
<text x="1037.9" y="628.4">Houston</text>
<text x="984.3" y="633.1">Leon</text>
<text x="1060.2" y="652.4">Trinity</text>
<text x="944.0" y="664.2">Robertson</text>
<text x="1138.8" y="615.3">San Augustine</text>
<text x="1120.7" y="636.6">Angelina</text>
<text x="1186.9" y="634.8">Sabine</text>
<text x="1142.6" y="665.9">Jasper</text>
<text x="1079.3" y="675.7">Polk</text>
<text x="1128.8" y="687.9">Tyler</text>
<text x="1023.6" y="687.9">Walker</text>
<text x="1071.0" y="698.0">San</text>
<text x="1071.0" y="716.0">Jacinto</text>
<text x="1179.0" y="705.5">Newton</text>
<text x="1126.4" y="720.4">Hardin</text>
<text x="1170.4" y="743.2">Orange</text>
<text x="1051.0" y="766.0">Harris</text>
<text x="1103.6" y="762.5">Liberty</text>
<text x="1172.0" y="770.7">Jefferson</text>
<text x="1132.7" y="795.0">Chambers</text>
<text x="862.2" y="665.1">Bell</text>
<text x="904.6" y="687.1">Milam</text>
<text x="932.1" y="708.1">Burleson</text>
<text x="999.6" y="710.2">Grimes</text>
<text x="939.9" y="735.6">Washington</text>
<text x="1030.2" y="732.6">Montgomery</text>
<text x="876.3" y="755.4">Bastrop</text>
<text x="945.4" y="758.4">Austin</text>
<text x="913.2" y="777.2">Fayette</text>
<text x="994.1" y="778.2">Waller</text>
<text x="947.8" y="802.0">Colorado</text>
<text x="1012.2" y="799.7">Fort</text>
<text x="1012.2" y="817.0">Bend</text>
<text x="923.4" y="824.3">Lavaca</text>
<text x="1088.9" y="817.4">Galveston</text>
<text x="1048.2" y="836.2">Brazoria</text>
<text x="978.9" y="847.1">Wharton</text>
<text x="929.5" y="863.9">Jackson</text>
<text x="1000.9" y="880.1">Matagorda</text>
<text x="912.2" y="884.0">Victoria</text>
<text x="938.1" y="905.2">Calhoun</text>
<text x="906.0" y="929.0">Refugio</text>
<text x="916.9" y="949.5">Aransas</text>
<text x="884.8" y="969.1">San Patricio</text>
<text x="852.3" y="782.6">Caldwell</text>
<text x="818.9" y="799.9">Guadalupe</text>
<text x="780.9" y="822.0">Bexar</text>
<text x="859.4" y="823.1">Gonzales</text>
<text x="726.4" y="832.2">Medina</text>
<text x="815.1" y="849.0">Wilson</text>
<text x="868.3" y="858.8">DeWitt</text>
<text x="728.3" y="879.9">Frio</text>
<text x="781.7" y="878.4">Atascosa</text>
<text x="842.9" y="891.1">Karnes</text>
<text x="760.9" y="903.2">McMullen</text>
<text x="879.0" y="909.8">Goliad</text>
<text x="728.0" y="922.0">La</text>
<text x="728.6" y="940.1">Salle</text>
<text x="809.9" y="924.4">Live</text>
<text x="809.9" y="942.1">Oak</text>
<text x="851.5" y="931.0">Bee</text>
<text x="805.7" y="964.6">Jim Wells</text>
<text x="715.9" y="997.9">Webb</text>
<text x="779.5" y="1000.0">Duval</text>
<text x="856.1" y="994.2">Nueces</text>
<text x="847.5" y="1024.0">Kleberg</text>
<text x="714.0" y="1039.7">Zapata</text>
<text x="765.7" y="1047.1">Jim</text>
<text x="765.7" y="1065.6">Hogg</text>
<text x="821.9" y="1058.9">Brooks</text>
<text x="851.7" y="1080.1">Kenedy</text>
<text x="759.1" y="1104.1">Starr</text>
<text x="858.8" y="1108.3">Willacy</text>
<text x="809.3" y="1132.7">Hidalgo</text>
<text x="880.7" y="1142.1">Cameron</text>
<text x="713.8" y="627.0">McCulloch</text>
<text x="747.2" y="645.4">San</text>
<text x="747.2" y="663.4">Saba</text>
<text x="666.8" y="662.3">Concho</text>
<text x="810.8" y="671.0">Burnet</text>
<text x="729.1" y="679.6">Mason</text>
<text x="672.6" y="693.7">Menard</text>
<text x="761.3" y="699.2">Llano</text>
<text x="836.7" y="698.4">Williamson</text>
<text x="665.5" y="718.9">Kimble</text>
<text x="781.7" y="721.5">Blanco</text>
<text x="738.9" y="738.2">Gillespie</text>
<text x="837.5" y="733.0">Travis</text>
<text x="686.0" y="749.2">Kerr</text>
<text x="817.9" y="763.1">Hays</text>
<text x="744.5" y="765.2">Kendall</text>
<text x="664.4" y="785.6">Real</text>
<text x="781.3" y="782.0">Comal</text>
<text x="716.1" y="796.9">Bandera</text>
<text x="886.5" y="569.6">Hill</text>
<text x="838.6" y="579.0">Bosque</text>
<text x="815.1" y="604.1">Hamilton</text>
<text x="886.0" y="604.9">McLennan</text>
<text x="826.1" y="623.0">Coryell</text>
<text x="906.5" y="641.8">Falls</text>
<text x="801.6" y="649.4">Lampasas</text>
<text x="518.7" y="562.0">Howard</text>
<text x="477.1" y="582.2">Midland</text>
<text x="549.0" y="589.4">Sterling</text>
<text x="604.0" y="584.3">Coke</text>
<text x="436.3" y="599.3">Ector</text>
<text x="517.9" y="606.2">Glasscock</text>
<text x="612.9" y="612.8">Tom</text>
<text x="612.9" y="631.1">Green</text>
<text x="477.9" y="628.2">Upton</text>
<text x="566.3" y="641.1">Irion</text>
<text x="453.9" y="652.3">Crane</text>
<text x="514.3" y="651.5">Reagan</text>
<text x="603.5" y="680.8">Schleicher</text>
<text x="528.6" y="690.3">Crockett</text>
<text x="603.2" y="720.1">Sutton</text>
<text x="121.7" y="579.9">El Paso</text>
<text x="188.7" y="613.0">Hudspeth</text>
<text x="274.2" y="594.9">Culberson</text>
<text x="348.3" y="585.4">Loving</text>
<text x="383.5" y="613.0">Ward</text>
<text x="338.2" y="633.9">Reeves</text>
<text x="294.5" y="688.9">Jeff Davis</text>
<text x="418.9" y="692.2">Pecos</text>
<text x="285.0" y="758.8">Presidio</text>
<text x="377.2" y="772.1">Brewster</text>
<text x="466.6" y="749.8">Terrell</text>
<text x="619.6" y="765.4">Edwards</text>
<text x="537.4" y="780.0">Val Verde</text>
<text x="665.6" y="821.9">Uvalde</text>
<text x="611.6" y="844.0">Kinney</text>
<text x="602.8" y="865.9">Maverick</text>
<text x="671.4" y="887.3">Zavala</text>
<text x="669.3" y="923.7">Dimmit</text>
</g>
</g>
<rect x="50" y="109" width="1186" height="1065" fill="none" stroke="#000" stroke-width="2"/>
<circle cx="1282.6" cy="71.4" r="29.6" fill="#fff" stroke="#b2b2b6" stroke-width="1.9"/>
<circle cx="1282.6" cy="71.4" r="21.8" fill="#fff" stroke="#d2354c" stroke-width="1"/>
<path id="rt" d="M1259.1999999999998,72.4 A23.4,23.4 0 0 1 1306.0,72.4" fill="none"/>
<path id="rb" d="M1255.1999999999998,72.9 A27.4,27.4 0 0 0 1310.0,72.9" fill="none"/>
<text class="b" style="font-size:6.1px;fill:#1d56a0;letter-spacing:0.1px"><textPath href="#rt" startOffset="50%" text-anchor="middle">U.S. DEPARTMENT OF</textPath></text>
<text class="b" style="font-size:6.1px;fill:#1d56a0;letter-spacing:0.2px"><textPath href="#rb" startOffset="50%" text-anchor="middle">HOMELAND SECURITY</textPath></text>
<g fill="#1b55a0">
<path d="M1279.6,66.4 C1276.6,59.400000000000006 1272.6,54.400000000000006 1264.1,55.400000000000006 L1266.6,58.900000000000006 L1263.1,60.400000000000006 L1266.1,63.400000000000006 L1263.1,65.4 L1266.6,67.9 L1264.1,70.4 L1267.6,71.9 L1265.6,74.9 L1269.1,75.4 L1268.1,78.9 L1272.1,78.4 L1273.6,81.4 L1277.6,77.4 Z"/><path d="M1285.6,66.4 C1288.6,59.400000000000006 1292.6,54.400000000000006 1301.1,55.400000000000006 L1298.6,58.900000000000006 L1302.1,60.400000000000006 L1299.1,63.400000000000006 L1302.1,65.4 L1298.6,67.9 L1301.1,70.4 L1297.6,71.9 L1299.6,74.9 L1296.1,75.4 L1297.1,78.9 L1293.1,78.4 L1291.6,81.4 L1287.6,77.4 Z"/>
<path d="M1274.6,63.400000000000006 C1273.6,52.400000000000006 1291.6,52.400000000000006 1290.6,63.400000000000006 C1287.6,68.4 1277.6,68.4 1274.6,63.400000000000006Z"/>
<path d="M1275.6,79.4 L1268.6,85.4 L1274.6,84.9 L1273.6,88.4 L1278.1,85.9 L1280.1,89.9 L1282.6,86.4 L1285.1,89.9 L1287.1,85.9 L1291.6,88.4 L1290.6,84.9 L1296.6,85.4 L1289.6,79.4 Z"/>
</g>
<g stroke="#fff" stroke-width="0.55" fill="none">
<path d="M1276.6,62.400000000000006 L1266.6,58.900000000000006 M1276.6,65.4 L1266.1,63.400000000000006 M1276.6,68.4 L1266.6,67.9 M1276.6,71.4 L1267.6,71.9 M1276.6,74.4 L1269.1,75.4"/>
<path d="M1288.6,62.400000000000006 L1298.6,58.900000000000006 M1288.6,65.4 L1299.1,63.400000000000006 M1288.6,68.4 L1298.6,67.9 M1288.6,71.4 L1297.6,71.9 M1288.6,74.4 L1296.1,75.4"/>
</g>
<path d="M1280.1,57.900000000000006 c2,-3.2 7,-2.4 6.4,1.2 c-0.4,2.4 -2.6,3.8 -5.2,4.6 c1,-1.8 0.8,-3 -0.6,-3.4 l-2.4,0.4 z" fill="#fff"/>
<path d="M1276.3999999999999,65.9 h12.4 v9.5 c0,4 -3,6.4 -6.2,7.6 c-3.2,-1.2 -6.2,-3.6 -6.2,-7.6 z" fill="#2c6ab2"/>
<rect x="1276.3999999999999" y="65.9" width="12.4" height="3.4" fill="#1b55a0"/>
<rect x="1277.6" y="70.0" width="4.8" height="5" fill="#a5d9d6"/>
<rect x="1282.8" y="70.0" width="4.8" height="5" fill="#71b5dc"/>
<path d="M1277.6,75.60000000000001 h7.4 l-1.2,4.2 h-4.6 z" fill="#7ac143"/>
<path d="M1277.1,83.7 c2,-2.6 9,-2.6 11,0 c-2,2.6 -9,2.6 -11,0z" fill="#fff"/>
<text x="1322" y="85.4" style="font-size:40.4px;fill:#17589f;stroke:#17589f;stroke-width:0.9px" textLength="102" lengthAdjust="spacingAndGlyphs">FEMA</text>
<g clip-path="url(#insclip)">
<rect x="1252" y="108" width="286" height="190" fill="#e8e4e6"/>
<path d="M1429.1 280.4 L1427.3 275.3 L1426.1 266.6 L1424.5 257.4 L1427.3 250.5 L1430.7 245.9 L1434.2 240.2 L1439.9 237.9 L1445.6 234.5 L1451.4 228.7 L1456.0 226.4 L1461.7 223.0 L1469.8 220.7 L1475.5 222.5 L1480.1 221.1 L1485.8 222.5 L1491.6 219.5 L1496.2 223.0 L1499.6 225.3 L1504.2 226.4 L1507.7 224.8 L1513.4 225.3 L1518.0 222.5 L1522.6 225.3 L1527.2 227.1 L1524.9 221.8 L1520.3 216.1 L1515.7 212.6 L1511.1 211.5 L1516.9 209.6 L1522.6 211.5 L1528.3 209.2 L1539.8 205.7 L1539.8 298.8 L1425.0 298.8 L1425.0 294.2Z" fill="#bed2ff"/>
<path d="M1250.4 190.8 L1253.8 191.5 L1288.3 197.0 L1298.6 197.0 L1298.6 192.4 L1317.5 192.4 L1323.9 200.0 L1330.8 206.9 L1335.4 213.8 L1340.0 220.7 L1348.0 227.1 L1357.2 232.8 L1360.6 226.4 L1364.1 222.5 L1369.8 221.1 L1379.0 223.0 L1384.8 229.9 L1390.5 237.9 L1395.6 245.9 L1400.8 254.0 L1405.4 262.0 L1410.0 268.9 L1415.8 271.7 L1422.7 273.5 L1427.3 275.3 L1429.1 280.4 L1426.8 287.3 L1424.5 294.2 L1424.1 298.8 L1250.4 298.8Z" fill="#9b9d99"/>
<path d="M1250.4 232.2 L1255.0 235.6 L1260.7 240.2 L1264.2 247.1 L1269.9 254.0 L1276.8 262.0 L1282.5 271.2 L1288.3 281.6 L1294.0 289.6 L1300.9 298.8 L1266.5 298.8 L1261.9 287.3 L1256.1 278.1 L1250.4 273.5Z" fill="#bed2ff"/>
<path d="M1250.4 273.5 L1256.1 278.1 L1261.9 287.3 L1266.5 298.8 L1250.4 298.8Z" fill="#bed2ff"/>
<path d="M1250.4 115.2 L1294.5 118.2 L1361.8 121.7 L1454.4 122.8 L1506.5 121.0 L1507.7 125.3 L1505.4 129.2 L1511.1 128.8 L1513.4 121.9" fill="none" stroke="#6e6e6e" stroke-width="0.8" stroke-linejoin="round"/>
<path d="M1295.2 108.1 L1294.5 118.2 L1290.6 158.6 L1287.1 197.0" fill="none" stroke="#6e6e6e" stroke-width="0.8" stroke-linejoin="round"/>
<path d="M1371.7 108.1 L1371.0 121.9" fill="none" stroke="#6e6e6e" stroke-width="0.8" stroke-linejoin="round"/>
<path d="M1361.8 121.7 L1360.2 156.3 L1359.0 191.5" fill="none" stroke="#6e6e6e" stroke-width="0.8" stroke-linejoin="round"/>
<path d="M1317.5 189.0 L1359.0 191.5" fill="none" stroke="#6e6e6e" stroke-width="0.8" stroke-linejoin="round"/>
<path d="M1317.5 189.0 L1317.5 192.4" fill="none" stroke="#6e6e6e" stroke-width="0.8" stroke-linejoin="round"/>
<path d="M1361.3 131.5 L1395.1 132.5" fill="none" stroke="#6e6e6e" stroke-width="0.8" stroke-linejoin="round"/>
<path d="M1395.1 132.5 L1395.6 155.9" fill="none" stroke="#6e6e6e" stroke-width="0.8" stroke-linejoin="round"/>
<path d="M1395.6 155.9 L1400.8 158.6 L1406.6 161.4 L1412.3 162.1 L1416.9 163.9 L1422.7 165.5 L1427.3 167.1 L1433.0 165.5 L1438.8 164.4 L1444.5 166.0 L1450.2 165.1 L1456.0 166.0 L1462.9 168.5" fill="none" stroke="#6e6e6e" stroke-width="0.8" stroke-linejoin="round"/>
<path d="M1462.9 168.5 L1464.5 175.9 L1464.9 190.8 L1468.6 195.9 L1471.4 201.1 L1472.3 211.5 L1470.9 217.2 L1469.8 220.7" fill="none" stroke="#6e6e6e" stroke-width="0.8" stroke-linejoin="round"/>
<path d="M1454.4 108.1 L1454.4 122.8 L1456.7 138.0 L1459.0 154.1 L1459.4 167.8" fill="none" stroke="#6e6e6e" stroke-width="0.8" stroke-linejoin="round"/>
<path d="M1464.5 175.9 L1499.6 174.3" fill="none" stroke="#6e6e6e" stroke-width="0.8" stroke-linejoin="round"/>
<path d="M1513.4 121.9 L1510.0 128.8 L1506.5 136.8 L1504.2 144.9 L1500.3 152.9 L1498.5 160.9 L1498.0 167.8 L1500.8 174.7 L1499.6 181.6 L1496.6 189.7 L1494.3 195.4 L1493.9 201.1" fill="none" stroke="#6e6e6e" stroke-width="0.8" stroke-linejoin="round"/>
<path d="M1493.9 201.1 L1515.7 200.0 L1516.9 205.7 L1519.2 211.5" fill="none" stroke="#6e6e6e" stroke-width="0.8" stroke-linejoin="round"/>
<path d="M1506.5 144.9 L1539.8 142.1" fill="none" stroke="#6e6e6e" stroke-width="0.8" stroke-linejoin="round"/>
<path d="M1512.7 123.7 L1539.8 121.4" fill="none" stroke="#6e6e6e" stroke-width="0.8" stroke-linejoin="round"/>
<path d="M1530.0 143.3 L1531.3 172.4 L1533.4 205.7" fill="none" stroke="#6e6e6e" stroke-width="0.8" stroke-linejoin="round"/>
<path d="M1513.4 121.9 L1511.1 116.1 L1507.7 108.1" fill="none" stroke="#6e6e6e" stroke-width="0.8" stroke-linejoin="round"/>
<path d="M1515.7 108.1 L1514.1 115.5 L1513.4 121.9" fill="none" stroke="#6e6e6e" stroke-width="0.8" stroke-linejoin="round"/>
<path d="M1250.4 190.8 L1253.8 191.5 L1288.3 197.0 L1298.6 197.0 L1298.6 192.4 L1317.5 192.4 L1323.9 200.0 L1330.8 206.9 L1335.4 213.8 L1340.0 220.7 L1348.0 227.1 L1357.2 232.8 L1360.6 226.4 L1364.1 222.5 L1369.8 221.1 L1379.0 223.0 L1384.8 229.9 L1390.5 237.9 L1395.6 245.9 L1400.8 254.0 L1405.4 262.0 L1410.0 268.9 L1415.8 271.7 L1422.7 273.5 L1427.3 275.3" fill="none" stroke="#6e6e6e" stroke-width="0.8" stroke-linejoin="round"/>
<path d="M1427.3 275.3 L1426.1 266.6 L1424.5 257.4 L1427.3 250.5 L1430.7 245.9 L1434.2 240.2 L1439.9 237.9 L1445.6 234.5 L1451.4 228.7 L1456.0 226.4 L1461.7 223.0 L1469.8 220.7 L1475.5 222.5 L1480.1 221.1 L1485.8 222.5 L1491.6 219.5 L1496.2 223.0 L1499.6 225.3 L1504.2 226.4 L1507.7 224.8 L1513.4 225.3 L1518.0 222.5 L1522.6 225.3 L1527.2 227.1 L1524.9 221.8 L1520.3 216.1 L1515.7 212.6 L1511.1 211.5 L1516.9 209.6 L1522.6 211.5 L1528.3 209.2 L1539.8 205.7" fill="none" stroke="#6e6e6e" stroke-width="0.8" stroke-linejoin="round"/>
<rect x="1311.6" y="128.8" width="165" height="147.3" fill="none" stroke="#f00" stroke-width="3.2"/>
<text x="1279.1" y="121.4" class="il">UT</text>
<text x="1334.7" y="120.1" class="il">CO</text>
<text x="1411.2" y="119.6" class="il">KS</text>
<text x="1483.6" y="122.6" class="il">MO</text>
<text x="1505.4" y="119.1" class="il">IL</text>
<text x="1524.2" y="121.2" class="il">KY</text>
<text x="1523.3" y="139.1" class="il">TN</text>
<text x="1271.5" y="154.5" class="il">AZ</text>
<text x="1325.5" y="164.9" class="il">NM</text>
<text x="1426.6" y="146.0" class="il">OK</text>
<text x="1481.3" y="154.1" class="il">AR</text>
<text x="1521.9" y="161.6" class="il">AL</text>
<text x="1515.0" y="181.6" class="il">MS</text>
<text x="1402.5" y="205.1" class="il">TX</text>
<text x="1488.1" y="211.9" class="il">LA</text>
</g>
<rect x="1253" y="109" width="283.5" height="187" fill="none" stroke="#000" stroke-width="2"/>
<text x="1253" y="321.5" class="p b">Data Layer/Map Description:</text>
<text x="1253" y="341.8" class="p">The types of assistance that have</text>
<text x="1253" y="362.2" class="p">been designated for selected</text>
<text x="1253" y="382.8" class="p">areas in the State of Texas.</text>
<text x="1253" y="423.6" class="p">All designated areas in the State</text>
<text x="1253" y="444.5" class="p">of Texas are eligible to apply</text>
<text x="1253" y="465.5" class="p">for assistance under the Hazard</text>
<text x="1253" y="485.8" class="p">Mitigation Grant Program.</text>
<text x="1253" y="521.6" class="p b">Designated Counties</text>
<rect x="1253" y="532" width="54" height="27.5" fill="#fffbfc"/>
<rect x="1253" y="532" width="54" height="27.5" fill="none" stroke="#6e6e6e" stroke-width="1.4"/>
<rect x="1253" y="570" width="54" height="27.5" fill="#ffd37f"/>
<rect x="1253" y="570" width="54" height="27.5" fill="none" stroke="#6e6e6e" stroke-width="1.4"/>
<rect x="1253" y="614" width="54" height="28.5" fill="#d79e9e"/>
<rect x="1253" y="614" width="54" height="28.5" fill="none" stroke="#6e6e6e" stroke-width="1.4"/>
<rect x="1253" y="668" width="54" height="28" fill="#ffd37f"/>
<rect x="1253" y="668" width="54" height="28" fill="none" stroke="#6e6e6e" stroke-width="1.4"/>
<rect x="1253" y="732" width="54" height="27.5" fill="#d79e9e"/>
<path d="M1254,744 l11,-11 M1258,759.5 l27.5,-27.5 M1280,759.5 l26.5,-26.5 M1302,759.5 l5,-5" stroke="#000" stroke-width="0.9" fill="none"/>
<rect x="1253" y="732" width="54" height="27.5" fill="none" stroke="#6e6e6e" stroke-width="1.4"/>
<rect x="1253" y="806" width="54" height="27.5" fill="#d79e9e"/>
<path d="M1254,818 l11,-11 M1258,833.5 l27.5,-27.5 M1280,833.5 l26.5,-26.5 M1302,833.5 l5,-5" stroke="#000" stroke-width="0.9" fill="none"/>
<path d="M1254,811 l22,22 M1271,806 l27.5,27.5 M1293,806 l14,14 M1253,830 l3,3" stroke="#000" stroke-width="0.9" fill="none"/>
<rect x="1253" y="806" width="54" height="27.5" fill="none" stroke="#6e6e6e" stroke-width="1.4"/>
<text x="1313.5" y="551.7" class="lg">No Designation</text>
<text x="1313.5" y="588.7" class="lg">Public Assistance</text>
<text x="1313.5" y="624.7" class="lg">Individual Assistance and</text>
<text x="1313.5" y="644.3000000000001" class="lg">Public Assistance</text>
<text x="1313.5" y="677.3000000000001" class="lg">Public Assistance (Category</text>
<text x="1313.5" y="697.3000000000001" class="lg">B)</text>
<text x="1313.5" y="730.9000000000001" class="lg">Individual Assistance and</text>
<text x="1313.5" y="751.2" class="lg">Public Assistance (Categories</text>
<text x="1313.5" y="771.9000000000001" class="lg">A and B)</text>
<text x="1313.5" y="805.1" class="lg">Individual Assistance and</text>
<text x="1313.5" y="824.7" class="lg">Public Assistance (Categories</text>
<text x="1313.5" y="845.5" class="lg">A - G)</text>
<g transform="rotate(0 1373.5 914.7)"><path d="M1373.5,887.7 L1376.7,902.7 L1370.3,902.7 Z" fill="#fff" stroke="#000" stroke-width="0.9"/><path d="M1373.5,887.7 L1373.5,902.7 L1370.3,902.7 Z" fill="#000"/></g>
<g transform="rotate(90 1373.5 914.7)"><path d="M1373.5,887.7 L1376.7,902.7 L1370.3,902.7 Z" fill="#fff" stroke="#000" stroke-width="0.9"/><path d="M1373.5,887.7 L1373.5,902.7 L1370.3,902.7 Z" fill="#000"/></g>
<g transform="rotate(180 1373.5 914.7)"><path d="M1373.5,887.7 L1376.7,902.7 L1370.3,902.7 Z" fill="#fff" stroke="#000" stroke-width="0.9"/><path d="M1373.5,887.7 L1373.5,902.7 L1370.3,902.7 Z" fill="#000"/></g>
<g transform="rotate(270 1373.5 914.7)"><path d="M1373.5,887.7 L1376.7,902.7 L1370.3,902.7 Z" fill="#fff" stroke="#000" stroke-width="0.9"/><path d="M1373.5,887.7 L1373.5,902.7 L1370.3,902.7 Z" fill="#000"/></g>
<circle cx="1373.5" cy="914.7" r="12.6" fill="#fff" stroke="#000" stroke-width="2.4"/>
<text x="1372.9" y="882.6" class="sans" style="font-size:9.6px;text-anchor:middle">N</text>
<text x="1372.9" y="954.8" class="sans" style="font-size:9.6px;text-anchor:middle">S</text>
<text x="1337.8" y="918" class="sans" style="font-size:9.6px;text-anchor:middle">W</text>
<text x="1407.8" y="918" class="sans" style="font-size:9.6px;text-anchor:middle">E</text>
<rect x="1264.2" y="994.8" width="229.0999999999999" height="10.6" fill="#fff" stroke="#000" stroke-width="1.2"/>
<rect x="1264.2" y="994.8" width="58.09999999999991" height="10.6" fill="#000"/>
<rect x="1378" y="994.8" width="58.700000000000045" height="10.6" fill="#000"/>
<text x="1265.0" y="984.8" style="font-size:15.8px;text-anchor:middle">0</text>
<text x="1323.1" y="984.8" style="font-size:15.8px;text-anchor:middle">40</text>
<text x="1378.8" y="984.8" style="font-size:15.8px;text-anchor:middle">80</text>
<text x="1437.5" y="984.8" style="font-size:15.8px;text-anchor:middle">120</text>
<text x="1494.1" y="984.8" style="font-size:15.8px;text-anchor:middle">160</text>
<text x="1497" y="1004.6" style="font-size:15.8px">Miles</text>
<text x="1255" y="1046.5" class="p b">Data Sources:</text>
<text x="1255" y="1067.5" class="p">FEMA, ESRI;</text>
<text x="1255" y="1088.5" class="p">Initial Declaration: 08/25/2017</text>
<text x="1255" y="1109" class="p">Disaster Federal Registry Notice:</text>
<text x="1255" y="1129.8" class="p">Amendment #10 - 10/11/2017</text>
<text x="1255" y="1150.5" class="p">Datum: North American 1983</text>
<text x="1255" y="1172" class="p">Projection: Lambert Conformal Conic</text>
<text x="1235.6" y="1201" class="sans" style="font-size:16px">MapID ead96c4eeef1011171451hqprod</text>
</svg></body></html>
